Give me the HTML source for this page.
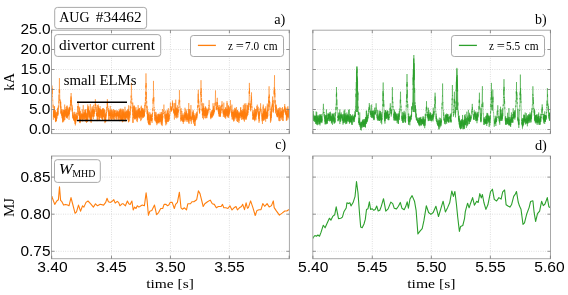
<!DOCTYPE html><html><head><meta charset="utf-8"><style>html,body{margin:0;padding:0;background:#fff;overflow:hidden}svg{display:block;will-change:transform}</style></head><body>
<svg width="568" height="295" viewBox="0 0 568 295">
<rect width="568" height="295" fill="#fff"/>
<clipPath id="cTL"><rect x="51.5" y="30.2" width="237.90" height="103.40"/></clipPath>
<path d="M111.50,30.20V133.60 M170.45,30.20V133.60 M229.40,30.20V133.60 M51.50,129.50H289.40 M51.50,109.50H289.40 M51.50,89.50H289.40 M51.50,69.50H289.40 M51.50,49.50H289.40" stroke="#bdbdbd" stroke-width="0.6" stroke-dasharray="0.8 1.5" fill="none"/>
<clipPath id="cTR"><rect x="312.8" y="30.2" width="237.70" height="103.40"/></clipPath>
<path d="M372.30,30.20V133.60 M431.35,30.20V133.60 M490.40,30.20V133.60 M312.80,129.50H550.50 M312.80,109.50H550.50 M312.80,89.50H550.50 M312.80,69.50H550.50 M312.80,49.50H550.50" stroke="#bdbdbd" stroke-width="0.6" stroke-dasharray="0.8 1.5" fill="none"/>
<clipPath id="cBL"><rect x="51.5" y="156.0" width="237.90" height="102.70"/></clipPath>
<path d="M111.50,156.00V258.70 M170.45,156.00V258.70 M229.40,156.00V258.70 M51.50,251.30H289.40 M51.50,214.20H289.40 M51.50,177.10H289.40" stroke="#bdbdbd" stroke-width="0.6" stroke-dasharray="0.8 1.5" fill="none"/>
<clipPath id="cBR"><rect x="312.8" y="156.0" width="237.70" height="102.70"/></clipPath>
<path d="M372.30,156.00V258.70 M431.35,156.00V258.70 M490.40,156.00V258.70 M312.80,251.30H550.50 M312.80,214.20H550.50 M312.80,177.10H550.50" stroke="#bdbdbd" stroke-width="0.6" stroke-dasharray="0.8 1.5" fill="none"/>
<g clip-path="url(#cTL)"><polyline points="51.80,89.70 51.86,94.08 51.93,93.87 51.99,93.82 52.05,85.57 52.11,94.38 52.18,93.82 52.24,88.12 52.30,93.00 52.36,93.90 52.43,96.63 52.49,95.84 52.55,97.21 52.61,99.28 52.68,100.40 52.74,99.81 52.80,100.61 52.86,103.61 52.93,104.24 52.99,105.41 53.05,106.99 53.11,107.69 53.18,104.73 53.24,106.66 53.30,113.04 53.36,119.77 53.43,114.19 53.49,113.58 53.55,117.11 53.61,110.74 53.68,114.34 53.74,112.07 53.80,113.61 53.86,110.50 53.93,116.27 53.99,116.34 54.05,115.90 54.11,109.12 54.18,117.01 54.24,115.68 54.30,106.41 54.36,113.09 54.43,117.33 54.49,110.70 54.55,106.23 54.61,111.62 54.68,114.14 54.74,113.64 54.80,118.16 54.86,111.74 54.93,118.04 54.99,115.74 55.05,112.76 55.11,117.02 55.18,115.69 55.24,116.06 55.30,115.66 55.36,114.41 55.43,120.66 55.49,117.81 55.55,110.15 55.61,122.12 55.68,118.23 55.74,113.98 55.80,121.84 55.86,118.95 55.93,118.79 55.99,111.77 56.05,119.03 56.11,114.61 56.18,118.40 56.24,116.55 56.30,120.01 56.36,121.08 56.43,118.17 56.49,120.93 56.55,117.44 56.61,116.63 56.68,115.83 56.74,112.56 56.80,112.93 56.86,114.30 56.93,112.53 56.99,112.26 57.05,117.48 57.12,118.51 57.18,114.22 57.24,113.93 57.30,114.71 57.37,115.82 57.43,110.84 57.49,110.05 57.55,108.31 57.62,114.57 57.68,112.98 57.74,114.88 57.80,111.85 57.87,115.83 57.93,111.40 57.99,114.20 58.05,107.51 58.12,111.92 58.18,111.68 58.24,110.80 58.30,107.71 58.37,105.45 58.43,108.66 58.49,108.48 58.55,108.22 58.62,105.53 58.68,105.39 58.74,101.10 58.80,102.52 58.87,103.19 58.93,103.32 58.99,94.62 59.05,100.98 59.12,91.04 59.18,89.46 59.24,90.79 59.30,92.77 59.37,88.58 59.43,78.10 59.49,93.21 59.55,92.84 59.62,89.52 59.68,90.07 59.74,95.41 59.80,95.33 59.87,100.84 59.93,99.22 59.99,100.62 60.05,100.79 60.12,102.70 60.18,105.07 60.24,106.20 60.30,107.35 60.37,105.56 60.43,102.12 60.49,103.15 60.55,100.60 60.62,106.77 60.68,108.46 60.74,101.90 60.80,113.32 60.87,109.50 60.93,106.42 60.99,106.89 61.05,108.74 61.12,114.25 61.18,110.46 61.24,112.18 61.30,113.45 61.37,111.22 61.43,111.52 61.49,113.34 61.55,114.76 61.62,115.77 61.68,109.02 61.74,112.32 61.80,114.79 61.87,112.22 61.93,111.04 61.99,115.25 62.05,117.84 62.12,114.11 62.18,115.71 62.24,114.54 62.30,118.75 62.37,109.42 62.43,116.29 62.49,114.16 62.56,117.54 62.62,115.32 62.68,122.29 62.74,113.68 62.81,122.26 62.87,112.77 62.93,119.79 62.99,112.93 63.06,112.22 63.12,116.99 63.18,115.98 63.24,112.25 63.31,113.94 63.37,114.44 63.43,113.40 63.49,121.11 63.56,111.47 63.62,111.35 63.68,109.80 63.74,121.52 63.81,117.81 63.87,116.94 63.93,110.18 63.99,113.54 64.06,109.92 64.12,113.81 64.18,117.02 64.24,110.72 64.31,116.72 64.37,110.82 64.43,117.47 64.49,120.19 64.56,114.02 64.62,110.73 64.68,104.55 64.74,110.98 64.81,111.75 64.87,119.87 64.93,110.57 64.99,115.53 65.06,113.91 65.12,116.99 65.18,111.78 65.24,110.32 65.31,113.63 65.37,114.74 65.43,113.23 65.49,112.58 65.56,111.28 65.62,116.15 65.68,109.23 65.74,109.19 65.81,113.99 65.87,111.39 65.93,115.51 65.99,110.81 66.06,107.03 66.12,112.12 66.18,112.81 66.24,114.86 66.31,109.01 66.37,110.11 66.43,118.02 66.49,110.65 66.56,115.58 66.62,117.14 66.68,113.90 66.74,115.70 66.81,106.05 66.87,117.58 66.93,117.71 66.99,116.74 67.06,114.37 67.12,105.48 67.18,117.26 67.24,116.19 67.31,118.72 67.37,114.65 67.43,117.10 67.49,107.59 67.56,108.31 67.62,116.79 67.68,113.60 67.75,112.75 67.81,115.60 67.87,115.13 67.93,112.05 68.00,114.74 68.06,114.82 68.12,114.02 68.18,110.26 68.25,114.71 68.31,112.80 68.37,113.26 68.43,111.87 68.50,114.60 68.56,109.50 68.62,116.13 68.68,113.42 68.75,113.75 68.81,109.77 68.87,113.59 68.93,107.74 69.00,112.01 69.06,119.86 69.12,110.61 69.18,114.11 69.25,112.34 69.31,106.84 69.37,114.40 69.43,108.23 69.50,108.36 69.56,107.96 69.62,109.87 69.68,110.03 69.75,111.79 69.81,106.86 69.87,110.52 69.93,110.56 70.00,108.69 70.06,107.53 70.12,109.64 70.18,108.89 70.25,105.21 70.31,105.24 70.37,104.25 70.43,106.47 70.50,104.30 70.56,100.09 70.62,105.10 70.68,101.41 70.75,100.58 70.81,102.40 70.87,98.34 70.93,96.97 71.00,96.32 71.06,100.98 71.12,93.00 71.18,102.79 71.25,97.62 71.31,100.91 71.37,100.17 71.43,101.74 71.50,104.98 71.56,101.14 71.62,104.72 71.68,106.24 71.75,106.51 71.81,105.46 71.87,105.93 71.93,104.77 72.00,107.87 72.06,109.95 72.12,106.22 72.18,111.34 72.25,109.99 72.31,111.75 72.37,107.68 72.43,113.62 72.50,114.42 72.56,112.10 72.62,115.77 72.68,114.36 72.75,116.18 72.81,117.59 72.87,113.63 72.94,117.63 73.00,114.93 73.06,118.79 73.12,117.46 73.19,117.44 73.25,117.10 73.31,118.31 73.37,115.73 73.44,118.10 73.50,116.63 73.56,115.83 73.62,119.14 73.69,116.17 73.75,120.58 73.81,117.37 73.87,119.67 73.94,112.34 74.00,119.67 74.06,119.79 74.12,117.77 74.19,120.61 74.25,111.75 74.31,111.89 74.37,116.60 74.44,121.01 74.50,119.10 74.56,119.81 74.62,117.25 74.69,116.90 74.75,118.16 74.81,118.58 74.87,114.06 74.94,121.98 75.00,114.54 75.06,117.81 75.12,123.96 75.19,119.03 75.25,123.61 75.31,119.76 75.37,125.41 75.44,117.20 75.50,121.69 75.56,114.41 75.62,121.42 75.69,119.06 75.75,123.20 75.81,119.49 75.87,118.92 75.94,117.49 76.00,112.41 76.06,113.98 76.12,116.49 76.19,119.72 76.25,119.52 76.31,119.52 76.37,121.06 76.44,116.45 76.50,118.52 76.56,116.71 76.62,118.93 76.69,117.01 76.75,112.82 76.81,116.93 76.87,115.17 76.94,120.40 77.00,118.29 77.06,118.76 77.12,115.94 77.19,116.35 77.25,119.05 77.31,115.83 77.37,116.33 77.44,118.04 77.50,116.50 77.56,112.75 77.62,114.36 77.69,106.02 77.75,112.35 77.81,112.15 77.87,111.03 77.94,109.71 78.00,108.34 78.06,106.14 78.12,108.18 78.19,101.50 78.25,105.23 78.31,107.33 78.38,107.41 78.44,107.43 78.50,109.76 78.56,111.67 78.63,111.96 78.69,112.59 78.75,113.98 78.81,111.29 78.88,112.92 78.94,115.36 79.00,112.25 79.06,115.82 79.13,113.73 79.19,115.58 79.25,107.98 79.31,118.93 79.38,118.34 79.44,116.12 79.50,115.08 79.56,122.77 79.63,117.75 79.69,106.75 79.75,117.20 79.81,120.10 79.88,119.92 79.94,111.99 80.00,121.80 80.06,118.12 80.13,114.73 80.19,123.15 80.25,115.24 80.31,121.87 80.38,114.24 80.44,110.87 80.50,120.87 80.56,117.29 80.63,115.92 80.69,118.62 80.75,115.21 80.81,118.86 80.88,118.35 80.94,119.02 81.00,116.70 81.06,115.09 81.13,113.56 81.19,116.74 81.25,119.57 81.31,117.81 81.38,113.47 81.44,117.52 81.50,114.63 81.56,116.77 81.63,116.08 81.69,116.20 81.75,116.62 81.81,117.75 81.88,114.18 81.94,116.61 82.00,116.66 82.06,119.64 82.13,118.37 82.19,118.02 82.25,109.39 82.31,121.34 82.38,113.88 82.44,115.60 82.50,117.98 82.56,118.28 82.63,114.12 82.69,114.87 82.75,121.26 82.81,117.29 82.88,117.83 82.94,115.21 83.00,116.77 83.06,113.43 83.13,116.26 83.19,115.47 83.25,105.16 83.31,115.30 83.38,116.07 83.44,114.51 83.50,118.52 83.57,119.46 83.63,114.87 83.69,116.60 83.75,119.16 83.82,112.23 83.88,113.00 83.94,114.41 84.00,116.70 84.07,115.74 84.13,116.90 84.19,112.68 84.25,119.53 84.32,114.49 84.38,115.28 84.44,118.72 84.50,113.56 84.57,116.44 84.63,109.92 84.69,112.03 84.75,115.72 84.82,112.56 84.88,117.67 84.94,117.83 85.00,114.80 85.07,120.03 85.13,112.92 85.19,113.77 85.25,116.27 85.32,113.68 85.38,109.40 85.44,115.08 85.50,110.88 85.57,116.89 85.63,117.85 85.69,109.34 85.75,121.81 85.82,113.30 85.88,116.19 85.94,117.64 86.00,115.99 86.07,115.95 86.13,112.60 86.19,113.82 86.25,115.74 86.32,117.01 86.38,119.17 86.44,115.77 86.50,122.89 86.57,113.48 86.63,116.34 86.69,121.26 86.75,114.63 86.82,118.93 86.88,117.65 86.94,121.55 87.00,118.45 87.07,115.72 87.13,116.40 87.19,115.23 87.25,115.57 87.32,109.31 87.38,120.22 87.44,113.35 87.50,122.06 87.57,116.28 87.63,116.80 87.69,115.54 87.75,104.46 87.82,110.62 87.88,117.78 87.94,106.56 88.00,119.64 88.07,108.18 88.13,109.55 88.19,111.85 88.25,109.47 88.32,110.39 88.38,114.72 88.44,110.63 88.50,109.23 88.57,110.31 88.63,112.97 88.69,113.90 88.76,106.28 88.82,112.10 88.88,111.39 88.94,117.30 89.01,111.25 89.07,112.71 89.13,116.17 89.19,109.96 89.26,113.98 89.32,112.24 89.38,113.00 89.44,116.64 89.51,113.91 89.57,110.86 89.63,118.45 89.69,118.43 89.76,118.25 89.82,113.52 89.88,117.26 89.94,115.16 90.01,112.78 90.07,119.63 90.13,112.01 90.19,116.38 90.26,117.06 90.32,103.97 90.38,115.27 90.44,120.56 90.51,116.85 90.57,118.98 90.63,115.92 90.69,118.11 90.76,117.72 90.82,113.86 90.88,121.72 90.94,115.82 91.01,117.30 91.07,115.59 91.13,123.00 91.19,119.21 91.26,117.47 91.32,111.22 91.38,119.71 91.44,119.16 91.51,116.21 91.57,114.52 91.63,117.09 91.69,114.82 91.76,119.73 91.82,109.65 91.88,115.48 91.94,113.89 92.01,107.53 92.07,115.54 92.13,117.37 92.19,116.44 92.26,106.23 92.32,113.75 92.38,110.84 92.44,113.05 92.51,112.99 92.57,109.78 92.63,110.58 92.69,111.55 92.76,111.21 92.82,115.03 92.88,116.39 92.94,111.47 93.01,111.15 93.07,109.05 93.13,111.99 93.19,111.05 93.26,116.43 93.32,114.17 93.38,115.87 93.44,118.96 93.51,112.00 93.57,114.40 93.63,104.81 93.69,112.11 93.76,116.79 93.82,109.75 93.88,113.44 93.94,111.46 94.01,109.54 94.07,116.07 94.13,116.41 94.20,114.26 94.26,111.54 94.32,111.46 94.38,113.78 94.45,110.54 94.51,112.32 94.57,111.92 94.63,111.42 94.70,111.87 94.76,109.27 94.82,110.34 94.88,108.52 94.95,106.98 95.01,108.39 95.07,108.52 95.13,105.98 95.20,103.56 95.26,106.40 95.32,103.54 95.38,99.20 95.45,102.14 95.51,102.36 95.57,105.79 95.63,104.96 95.70,105.76 95.76,104.23 95.82,108.30 95.88,107.69 95.95,108.84 96.01,111.35 96.07,111.32 96.13,112.02 96.20,111.32 96.26,106.66 96.32,113.83 96.38,113.28 96.45,114.49 96.51,114.61 96.57,113.65 96.63,113.14 96.70,116.10 96.76,116.00 96.82,114.07 96.88,116.17 96.95,109.27 97.01,113.05 97.07,117.34 97.13,121.13 97.20,115.07 97.26,112.58 97.32,115.70 97.38,105.07 97.45,117.10 97.51,115.54 97.57,115.69 97.63,117.28 97.70,119.37 97.76,117.73 97.82,120.48 97.88,112.51 97.95,115.22 98.01,114.96 98.07,116.31 98.13,111.73 98.20,117.03 98.26,104.50 98.32,111.24 98.38,116.52 98.45,115.03 98.51,112.56 98.57,106.30 98.63,109.83 98.70,115.90 98.76,107.89 98.82,111.70 98.88,108.29 98.95,108.71 99.01,113.12 99.07,115.79 99.13,119.54 99.20,111.80 99.26,117.67 99.32,109.99 99.39,120.02 99.45,115.48 99.51,114.04 99.57,117.60 99.64,108.24 99.70,116.16 99.76,113.22 99.82,117.26 99.89,114.23 99.95,109.30 100.01,109.17 100.07,107.67 100.14,106.13 100.20,114.46 100.26,112.28 100.32,111.16 100.39,112.47 100.45,109.04 100.51,115.35 100.57,114.07 100.64,118.03 100.70,114.83 100.76,109.96 100.82,113.55 100.89,111.55 100.95,109.25 101.01,111.03 101.07,116.44 101.14,112.43 101.20,112.06 101.26,110.70 101.32,110.04 101.39,115.70 101.45,118.51 101.51,116.19 101.57,110.37 101.64,117.25 101.70,118.37 101.76,118.16 101.82,118.10 101.89,112.07 101.95,116.46 102.01,109.13 102.07,110.74 102.14,111.34 102.20,111.50 102.26,116.40 102.32,119.20 102.39,113.12 102.45,108.98 102.51,108.31 102.57,115.09 102.64,120.88 102.70,109.27 102.76,115.08 102.82,119.73 102.89,114.81 102.95,116.47 103.01,112.90 103.07,108.42 103.14,117.26 103.20,114.45 103.26,116.10 103.32,116.97 103.39,113.67 103.45,110.48 103.51,113.80 103.57,108.24 103.64,113.64 103.70,114.51 103.76,112.82 103.82,116.92 103.89,114.90 103.95,110.46 104.01,115.33 104.07,112.52 104.14,115.49 104.20,115.30 104.26,117.77 104.32,109.09 104.39,112.15 104.45,112.28 104.51,112.45 104.58,110.08 104.64,118.36 104.70,116.77 104.76,121.35 104.83,119.18 104.89,114.18 104.95,123.13 105.01,119.61 105.08,117.38 105.14,117.48 105.20,117.41 105.26,119.68 105.33,114.79 105.39,121.30 105.45,116.36 105.51,122.12 105.58,119.78 105.64,117.82 105.70,112.78 105.76,120.22 105.83,121.74 105.89,114.47 105.95,117.53 106.01,117.16 106.08,115.45 106.14,110.11 106.20,115.70 106.26,115.32 106.33,115.06 106.39,114.48 106.45,113.23 106.51,112.09 106.58,112.94 106.64,112.25 106.70,111.99 106.76,106.95 106.83,109.60 106.89,110.24 106.95,107.96 107.01,107.12 107.08,106.46 107.14,107.50 107.20,107.68 107.26,102.49 107.33,105.78 107.39,99.20 107.45,104.56 107.51,103.04 107.58,106.00 107.64,107.07 107.70,107.35 107.76,105.76 107.83,109.10 107.89,109.49 107.95,109.76 108.01,110.56 108.08,110.92 108.14,110.74 108.20,111.93 108.26,110.09 108.33,107.96 108.39,113.34 108.45,114.30 108.51,109.86 108.58,112.50 108.64,114.64 108.70,120.39 108.76,114.69 108.83,115.32 108.89,115.41 108.95,115.78 109.01,111.71 109.08,115.87 109.14,113.38 109.20,120.38 109.26,117.69 109.33,114.79 109.39,111.80 109.45,114.67 109.51,114.93 109.58,114.22 109.64,115.75 109.70,112.87 109.76,115.49 109.83,115.96 109.89,110.22 109.95,116.00 110.02,110.18 110.08,113.70 110.14,115.44 110.20,114.46 110.27,105.93 110.33,115.68 110.39,118.07 110.45,113.30 110.52,112.68 110.58,112.31 110.64,119.43 110.70,113.75 110.77,114.79 110.83,115.79 110.89,116.52 110.95,113.78 111.02,115.42 111.08,115.41 111.14,109.36 111.20,115.18 111.27,118.81 111.33,118.11 111.39,117.63 111.45,120.14 111.52,112.08 111.58,109.74 111.64,117.11 111.70,112.48 111.77,113.40 111.83,117.12 111.89,120.24 111.95,115.17 112.02,111.29 112.08,111.17 112.14,113.34 112.20,115.70 112.27,111.32 112.33,109.74 112.39,117.23 112.45,114.20 112.52,115.20 112.58,117.03 112.64,118.68 112.70,117.73 112.77,114.98 112.83,114.62 112.89,115.02 112.95,111.69 113.02,117.60 113.08,119.34 113.14,119.15 113.20,114.50 113.27,117.30 113.33,118.29 113.39,112.94 113.45,111.50 113.52,110.27 113.58,109.06 113.64,116.85 113.70,119.61 113.77,114.83 113.83,114.58 113.89,115.65 113.95,115.80 114.02,116.66 114.08,110.35 114.14,117.02 114.20,114.71 114.27,111.08 114.33,117.06 114.39,113.47 114.45,114.12 114.52,111.84 114.58,120.11 114.64,114.38 114.70,115.76 114.77,110.15 114.83,113.54 114.89,115.04 114.95,110.76 115.02,111.53 115.08,110.47 115.14,110.36 115.21,111.39 115.27,115.50 115.33,113.05 115.39,113.19 115.46,113.14 115.52,113.36 115.58,114.22 115.64,115.87 115.71,114.96 115.77,117.77 115.83,117.62 115.89,112.89 115.96,116.05 116.02,114.88 116.08,116.77 116.14,120.02 116.21,116.34 116.27,110.30 116.33,115.34 116.39,116.96 116.46,112.77 116.52,116.13 116.58,116.36 116.64,119.03 116.71,119.31 116.77,112.81 116.83,113.48 116.89,113.62 116.96,111.53 117.02,114.83 117.08,113.31 117.14,115.88 117.21,115.81 117.27,115.45 117.33,110.36 117.39,111.17 117.46,116.31 117.52,114.35 117.58,113.15 117.64,116.02 117.71,111.76 117.77,116.24 117.83,115.06 117.89,115.22 117.96,119.88 118.02,119.76 118.08,117.28 118.14,111.34 118.21,113.26 118.27,113.75 118.33,117.05 118.39,116.66 118.46,115.20 118.52,114.59 118.58,119.95 118.64,117.58 118.71,117.78 118.77,111.61 118.83,117.13 118.89,117.92 118.96,113.04 119.02,116.72 119.08,112.59 119.14,118.16 119.21,109.63 119.27,115.40 119.33,114.66 119.39,115.71 119.46,115.07 119.52,114.81 119.58,115.79 119.64,111.07 119.71,121.22 119.77,118.29 119.83,115.78 119.89,115.07 119.96,110.41 120.02,113.07 120.08,114.76 120.14,117.19 120.21,109.02 120.27,112.34 120.33,108.44 120.40,119.50 120.46,110.03 120.52,115.53 120.58,117.86 120.65,115.05 120.71,115.17 120.77,116.56 120.83,120.03 120.90,116.86 120.96,117.42 121.02,115.73 121.08,120.13 121.15,115.51 121.21,117.44 121.27,113.43 121.33,118.65 121.40,120.37 121.46,120.54 121.52,115.58 121.58,109.81 121.65,120.46 121.71,118.20 121.77,111.73 121.83,114.32 121.90,112.45 121.96,108.69 122.02,114.68 122.08,115.92 122.15,119.33 122.21,115.34 122.27,118.82 122.33,114.02 122.40,122.29 122.46,122.01 122.52,116.26 122.58,115.53 122.65,110.30 122.71,118.21 122.77,113.88 122.83,121.09 122.90,108.92 122.96,121.93 123.02,111.10 123.08,116.63 123.15,120.87 123.21,117.08 123.27,112.69 123.33,115.66 123.40,117.65 123.46,112.42 123.52,115.01 123.58,112.19 123.65,109.53 123.71,116.19 123.77,117.03 123.83,114.55 123.90,115.11 123.96,113.83 124.02,117.65 124.08,114.23 124.15,117.05 124.21,112.96 124.27,113.87 124.33,115.46 124.40,119.48 124.46,111.50 124.52,117.44 124.58,116.40 124.65,115.30 124.71,113.90 124.77,116.81 124.83,116.82 124.90,119.57 124.96,106.80 125.02,116.90 125.08,116.87 125.15,121.62 125.21,117.30 125.27,112.95 125.33,112.42 125.40,118.64 125.46,115.35 125.52,113.62 125.58,119.69 125.65,116.52 125.71,113.22 125.77,111.98 125.84,119.47 125.90,118.37 125.96,111.54 126.02,116.12 126.09,113.77 126.15,118.22 126.21,111.22 126.27,113.46 126.34,110.33 126.40,117.27 126.46,116.01 126.52,117.94 126.59,117.93 126.65,118.18 126.71,113.70 126.77,116.95 126.84,114.30 126.90,116.30 126.96,113.20 127.02,111.82 127.09,111.93 127.15,111.78 127.21,114.83 127.27,112.37 127.34,115.33 127.40,117.08 127.46,118.47 127.52,115.04 127.59,114.23 127.65,110.29 127.71,116.72 127.77,111.05 127.84,120.21 127.90,115.97 127.96,108.85 128.02,116.93 128.09,118.71 128.15,119.15 128.21,109.53 128.27,112.50 128.34,117.90 128.40,117.62 128.46,122.36 128.52,116.77 128.59,111.56 128.65,121.87 128.71,105.29 128.77,114.06 128.84,111.10 128.90,112.00 128.96,114.75 129.02,111.38 129.09,113.84 129.15,113.08 129.21,116.06 129.27,115.60 129.34,116.76 129.40,114.66 129.46,114.91 129.52,115.80 129.59,121.34 129.65,119.36 129.71,115.42 129.77,111.82 129.84,118.05 129.90,117.10 129.96,115.76 130.02,112.87 130.09,110.91 130.15,115.17 130.21,113.89 130.27,113.14 130.34,105.92 130.40,110.99 130.46,109.89 130.52,109.42 130.59,106.79 130.65,108.23 130.71,104.50 130.77,103.85 130.84,101.69 130.90,100.60 130.96,103.14 131.03,97.94 131.09,95.57 131.15,97.72 131.21,97.49 131.28,92.62 131.34,89.73 131.40,82.90 131.46,86.85 131.53,90.74 131.59,92.81 131.65,93.94 131.71,100.05 131.78,98.37 131.84,100.54 131.90,104.04 131.96,102.75 132.03,103.61 132.09,104.39 132.15,108.40 132.21,107.33 132.28,108.17 132.34,109.88 132.40,111.94 132.46,111.77 132.53,109.76 132.59,113.95 132.65,115.20 132.71,112.85 132.78,102.53 132.84,116.06 132.90,122.83 132.96,116.82 133.03,122.77 133.09,118.13 133.15,114.19 133.21,114.41 133.28,116.43 133.34,116.08 133.40,114.97 133.46,117.97 133.53,117.87 133.59,113.13 133.65,111.21 133.71,106.04 133.78,115.30 133.84,107.02 133.90,113.85 133.96,114.07 134.03,110.98 134.09,105.23 134.15,110.61 134.21,116.81 134.28,118.32 134.34,114.69 134.40,117.32 134.46,119.00 134.53,113.08 134.59,106.14 134.65,119.53 134.71,111.82 134.78,113.98 134.84,117.59 134.90,116.53 134.96,115.00 135.03,107.81 135.09,113.66 135.15,109.65 135.21,116.13 135.28,111.21 135.34,111.98 135.40,116.43 135.46,116.19 135.53,113.09 135.59,119.31 135.65,114.79 135.71,118.66 135.78,114.90 135.84,113.76 135.90,113.08 135.96,107.09 136.03,115.91 136.09,117.06 136.15,118.11 136.22,117.49 136.28,113.86 136.34,117.43 136.40,110.30 136.47,118.08 136.53,111.48 136.59,114.19 136.65,118.46 136.72,121.18 136.78,118.97 136.84,117.24 136.90,116.85 136.97,115.53 137.03,110.41 137.09,116.40 137.15,111.19 137.22,115.37 137.28,116.71 137.34,122.14 137.40,116.40 137.47,113.48 137.53,118.41 137.59,119.67 137.65,118.86 137.72,114.31 137.78,114.54 137.84,109.74 137.90,115.76 137.97,109.54 138.03,117.66 138.09,114.57 138.15,105.08 138.22,114.55 138.28,112.07 138.34,117.35 138.40,116.32 138.47,115.11 138.53,116.85 138.59,114.86 138.65,109.14 138.72,114.21 138.78,112.80 138.84,108.94 138.90,113.58 138.97,114.15 139.03,115.23 139.09,110.53 139.15,111.23 139.22,107.92 139.28,107.96 139.34,118.64 139.40,108.70 139.47,108.05 139.53,113.45 139.59,111.34 139.65,117.94 139.72,111.19 139.78,117.67 139.84,114.21 139.90,115.80 139.97,113.49 140.03,116.21 140.09,116.23 140.15,111.93 140.22,115.13 140.28,112.30 140.34,116.98 140.40,110.54 140.47,113.34 140.53,111.18 140.59,112.43 140.65,119.33 140.72,121.13 140.78,111.30 140.84,115.78 140.90,115.45 140.97,116.62 141.03,115.67 141.09,106.84 141.15,111.14 141.22,114.53 141.28,120.06 141.34,105.60 141.40,112.46 141.47,115.08 141.53,117.02 141.59,117.08 141.66,109.32 141.72,114.85 141.78,109.42 141.84,113.75 141.91,110.43 141.97,115.85 142.03,108.43 142.09,113.84 142.16,118.50 142.22,117.42 142.28,112.14 142.34,109.00 142.41,113.25 142.47,114.24 142.53,117.13 142.59,113.68 142.66,114.75 142.72,107.90 142.78,108.90 142.84,115.48 142.91,108.39 142.97,117.50 143.03,117.54 143.09,110.49 143.16,117.92 143.22,116.49 143.28,110.05 143.34,116.05 143.41,110.74 143.47,112.68 143.53,114.21 143.59,112.85 143.66,111.38 143.72,112.26 143.78,117.23 143.84,111.87 143.91,116.62 143.97,109.08 144.03,114.53 144.09,111.84 144.16,110.53 144.22,111.94 144.28,116.23 144.34,112.12 144.41,116.16 144.47,113.69 144.53,112.97 144.59,112.88 144.66,110.18 144.72,105.48 144.78,105.02 144.84,107.16 144.91,108.16 144.97,112.12 145.03,109.66 145.09,108.86 145.16,103.68 145.22,106.15 145.28,102.14 145.34,104.06 145.41,98.41 145.47,96.98 145.53,101.06 145.59,98.43 145.66,91.58 145.72,94.80 145.78,93.18 145.84,85.54 145.91,88.48 145.97,73.40 146.03,86.75 146.09,86.81 146.16,83.02 146.22,87.78 146.28,98.53 146.34,95.67 146.41,92.03 146.47,99.11 146.53,98.42 146.59,103.47 146.66,100.92 146.72,108.16 146.78,105.57 146.85,107.84 146.91,108.84 146.97,111.94 147.03,114.17 147.10,112.61 147.16,106.22 147.22,110.72 147.28,112.45 147.35,112.29 147.41,120.39 147.47,110.29 147.53,111.78 147.60,112.19 147.66,118.08 147.72,113.02 147.78,110.78 147.85,118.35 147.91,119.70 147.97,116.89 148.03,122.74 148.10,115.51 148.16,113.79 148.22,119.19 148.28,120.27 148.35,115.55 148.41,119.70 148.47,113.63 148.53,123.48 148.60,121.14 148.66,124.47 148.72,124.52 148.78,121.08 148.85,124.08 148.91,118.74 148.97,118.08 149.03,119.19 149.10,111.93 149.16,119.25 149.22,125.20 149.28,123.89 149.35,119.51 149.41,123.59 149.47,122.27 149.53,120.22 149.60,119.05 149.66,124.53 149.72,119.62 149.78,117.02 149.85,118.32 149.91,114.85 149.97,120.59 150.03,115.29 150.10,112.55 150.16,116.75 150.22,115.84 150.28,115.73 150.35,125.17 150.41,120.77 150.47,115.44 150.53,120.21 150.60,117.83 150.66,117.13 150.72,115.04 150.78,119.25 150.85,116.33 150.91,119.02 150.97,114.31 151.03,120.95 151.10,120.68 151.16,117.94 151.22,114.17 151.28,118.39 151.35,119.24 151.41,120.98 151.47,115.98 151.53,121.10 151.60,119.74 151.66,119.79 151.72,115.58 151.78,121.37 151.85,121.27 151.91,118.11 151.97,118.52 152.04,122.99 152.10,121.18 152.16,120.42 152.22,118.38 152.29,119.37 152.35,112.66 152.41,116.99 152.47,115.00 152.54,113.39 152.60,113.82 152.66,111.48 152.72,108.15 152.79,110.95 152.85,108.88 152.91,106.21 152.97,106.11 153.04,99.64 153.10,103.77 153.16,98.14 153.22,100.79 153.29,96.71 153.35,94.57 153.41,91.76 153.47,80.90 153.54,90.15 153.60,89.77 153.66,92.26 153.72,101.15 153.79,101.53 153.85,96.99 153.91,101.44 153.97,104.96 154.04,106.71 154.10,107.96 154.16,107.15 154.22,111.01 154.29,109.50 154.35,109.47 154.41,113.06 154.47,113.93 154.54,116.26 154.60,115.74 154.66,111.69 154.72,119.19 154.79,120.31 154.85,117.33 154.91,118.23 154.97,114.88 155.04,118.49 155.10,118.72 155.16,119.03 155.22,121.03 155.29,117.82 155.35,120.14 155.41,121.63 155.47,118.83 155.54,118.20 155.60,117.37 155.66,113.96 155.72,111.89 155.79,119.18 155.85,114.38 155.91,118.38 155.97,118.05 156.04,112.54 156.10,116.73 156.16,118.90 156.22,116.72 156.29,123.17 156.35,121.77 156.41,120.42 156.47,119.27 156.54,116.98 156.60,123.15 156.66,115.24 156.72,117.30 156.79,117.57 156.85,125.18 156.91,118.30 156.97,121.51 157.04,116.91 157.10,119.26 157.16,120.14 157.22,121.46 157.29,119.29 157.35,116.47 157.41,123.20 157.48,120.45 157.54,118.85 157.60,118.57 157.66,119.27 157.73,117.20 157.79,117.47 157.85,123.86 157.91,114.54 157.98,121.77 158.04,114.06 158.10,115.24 158.16,122.80 158.23,117.29 158.29,113.62 158.35,113.62 158.41,117.30 158.48,120.26 158.54,114.49 158.60,122.68 158.66,122.79 158.73,116.17 158.79,122.21 158.85,117.08 158.91,122.02 158.98,120.82 159.04,115.58 159.10,119.34 159.16,117.28 159.23,119.80 159.29,120.64 159.35,121.36 159.41,122.06 159.48,118.13 159.54,117.97 159.60,114.34 159.66,118.41 159.73,120.01 159.79,117.71 159.85,114.87 159.91,123.40 159.98,114.12 160.04,121.44 160.10,121.35 160.16,112.35 160.23,115.57 160.29,120.34 160.35,116.08 160.41,114.49 160.48,116.39 160.54,115.07 160.60,117.17 160.66,116.61 160.73,121.47 160.79,121.08 160.85,117.41 160.91,121.93 160.98,115.91 161.04,118.13 161.10,114.35 161.16,115.21 161.23,114.29 161.29,124.43 161.35,122.23 161.41,117.98 161.48,111.97 161.54,118.08 161.60,116.50 161.66,118.41 161.73,125.00 161.79,116.80 161.85,119.48 161.91,123.34 161.98,116.97 162.04,119.35 162.10,112.84 162.16,126.08 162.23,118.87 162.29,114.26 162.35,121.23 162.41,109.05 162.48,117.79 162.54,119.16 162.60,119.98 162.67,119.43 162.73,116.11 162.79,118.34 162.85,117.73 162.92,117.35 162.98,116.09 163.04,116.41 163.10,115.63 163.17,115.39 163.23,114.99 163.29,114.17 163.35,113.00 163.42,113.39 163.48,113.97 163.54,113.17 163.60,112.18 163.67,110.30 163.73,111.59 163.79,107.46 163.85,106.38 163.92,104.60 163.98,109.24 164.04,110.07 164.10,111.15 164.17,112.39 164.23,112.04 164.29,113.66 164.35,111.88 164.42,113.58 164.48,113.73 164.54,113.87 164.60,115.71 164.67,114.69 164.73,116.62 164.79,116.32 164.85,117.66 164.92,117.93 164.98,118.30 165.04,118.63 165.10,114.05 165.17,119.70 165.23,119.83 165.29,121.77 165.35,116.66 165.42,118.79 165.48,119.12 165.54,114.65 165.60,119.40 165.67,110.61 165.73,124.10 165.79,125.35 165.85,121.61 165.92,119.70 165.98,123.15 166.04,122.62 166.10,117.40 166.17,121.19 166.23,121.09 166.29,120.20 166.35,122.28 166.42,116.31 166.48,114.48 166.54,115.50 166.60,113.89 166.67,124.22 166.73,115.56 166.79,118.56 166.85,113.99 166.92,119.96 166.98,115.59 167.04,112.70 167.10,116.18 167.17,117.64 167.23,118.57 167.29,109.80 167.35,118.82 167.42,121.83 167.48,116.61 167.54,113.63 167.60,110.85 167.67,115.57 167.73,115.24 167.79,118.82 167.86,119.22 167.92,121.49 167.98,118.46 168.04,117.71 168.11,122.06 168.17,120.19 168.23,116.25 168.29,121.40 168.36,108.17 168.42,118.40 168.48,113.09 168.54,116.89 168.61,117.72 168.67,119.72 168.73,119.24 168.79,118.35 168.86,118.02 168.92,118.16 168.98,117.31 169.04,120.86 169.11,114.98 169.17,119.31 169.23,119.05 169.29,115.36 169.36,116.23 169.42,116.61 169.48,116.38 169.54,115.61 169.61,116.28 169.67,113.96 169.73,114.96 169.79,113.89 169.86,112.39 169.92,113.47 169.98,110.71 170.04,112.36 170.11,109.33 170.17,108.60 170.23,108.33 170.29,105.27 170.36,104.23 170.42,102.60 170.48,104.38 170.54,108.16 170.61,106.43 170.67,109.37 170.73,109.29 170.79,108.29 170.86,108.80 170.92,109.72 170.98,110.16 171.04,109.02 171.11,110.35 171.17,109.53 171.23,111.20 171.29,108.53 171.36,109.66 171.42,111.35 171.48,111.63 171.54,107.74 171.61,110.62 171.67,109.32 171.73,109.77 171.79,106.76 171.86,109.45 171.92,108.70 171.98,108.10 172.04,107.28 172.11,105.98 172.17,107.99 172.23,107.39 172.29,105.81 172.36,102.77 172.42,104.56 172.48,100.50 172.54,105.36 172.61,102.84 172.67,106.26 172.73,103.87 172.79,106.47 172.86,105.90 172.92,107.64 172.98,108.00 173.04,108.07 173.11,109.73 173.17,108.47 173.23,110.51 173.30,109.56 173.36,110.54 173.42,110.96 173.48,111.39 173.55,111.59 173.61,112.31 173.67,112.72 173.73,109.49 173.80,113.67 173.86,109.33 173.92,110.33 173.98,111.23 174.05,112.31 174.11,112.27 174.17,102.90 174.23,108.84 174.30,117.01 174.36,118.93 174.42,119.54 174.48,112.92 174.55,110.50 174.61,115.61 174.67,112.14 174.73,112.69 174.80,109.79 174.86,111.00 174.92,111.86 174.98,115.03 175.05,114.13 175.11,110.31 175.17,103.20 175.23,108.96 175.30,114.68 175.36,109.93 175.42,113.27 175.48,111.44 175.55,117.75 175.61,110.59 175.67,115.28 175.73,99.64 175.80,110.00 175.86,114.40 175.92,108.12 175.98,107.98 176.05,107.25 176.11,108.70 176.17,113.37 176.23,107.97 176.30,115.89 176.36,113.11 176.42,111.12 176.48,116.85 176.55,108.52 176.61,110.23 176.67,112.49 176.73,118.46 176.80,109.99 176.86,109.87 176.92,110.39 176.98,115.07 177.05,110.48 177.11,112.52 177.17,116.13 177.23,117.59 177.30,108.62 177.36,112.99 177.42,105.34 177.48,113.95 177.55,110.49 177.61,110.56 177.67,114.00 177.73,114.90 177.80,108.51 177.86,111.12 177.92,113.44 177.98,117.41 178.05,110.07 178.11,110.33 178.17,112.81 178.23,110.18 178.30,112.09 178.36,111.10 178.42,109.82 178.49,110.77 178.55,108.31 178.61,107.16 178.67,107.95 178.74,107.31 178.80,105.91 178.86,105.99 178.92,102.67 178.99,103.17 179.05,104.57 179.11,99.71 179.17,103.00 179.24,100.36 179.30,99.23 179.36,98.74 179.42,90.10 179.49,95.35 179.55,96.18 179.61,101.98 179.67,101.79 179.74,100.40 179.80,103.65 179.86,107.16 179.92,106.52 179.99,108.10 180.05,107.73 180.11,110.53 180.17,109.45 180.24,111.53 180.30,113.43 180.36,112.72 180.42,114.84 180.49,116.60 180.55,117.01 180.61,118.00 180.67,118.83 180.74,117.76 180.80,121.55 180.86,117.95 180.92,110.82 180.99,111.76 181.05,112.04 181.11,108.09 181.17,120.34 181.24,118.74 181.30,119.02 181.36,115.83 181.42,115.13 181.49,116.67 181.55,118.41 181.61,119.61 181.67,118.59 181.74,120.07 181.80,115.60 181.86,110.99 181.92,115.15 181.99,120.97 182.05,117.97 182.11,117.16 182.17,118.38 182.24,120.37 182.30,117.44 182.36,118.20 182.42,117.27 182.49,115.50 182.55,114.79 182.61,118.40 182.67,120.46 182.74,121.64 182.80,120.73 182.86,118.56 182.92,120.86 182.99,122.03 183.05,113.30 183.11,118.80 183.17,115.06 183.24,115.45 183.30,123.87 183.36,120.13 183.42,117.49 183.49,120.39 183.55,119.57 183.61,121.82 183.68,118.53 183.74,119.31 183.80,121.36 183.86,117.19 183.93,115.57 183.99,117.06 184.05,121.70 184.11,117.42 184.18,115.77 184.24,114.64 184.30,114.22 184.36,114.82 184.43,117.95 184.49,115.74 184.55,115.04 184.61,116.59 184.68,112.05 184.74,119.62 184.80,115.60 184.86,117.65 184.93,116.67 184.99,107.72 185.05,115.39 185.11,115.08 185.18,117.79 185.24,120.29 185.30,119.49 185.36,116.96 185.43,112.96 185.49,114.06 185.55,118.16 185.61,116.31 185.68,114.37 185.74,117.70 185.80,116.43 185.86,113.38 185.93,116.15 185.99,109.24 186.05,121.51 186.11,113.86 186.18,118.28 186.24,114.97 186.30,112.16 186.36,115.27 186.43,110.72 186.49,113.50 186.55,119.60 186.61,115.16 186.68,117.06 186.74,113.33 186.80,119.91 186.86,117.13 186.93,116.98 186.99,118.05 187.05,116.96 187.11,121.92 187.18,115.06 187.24,118.48 187.30,116.97 187.36,119.48 187.43,118.61 187.49,113.50 187.55,113.84 187.61,119.88 187.68,119.62 187.74,117.92 187.80,117.03 187.86,120.35 187.93,116.76 187.99,116.53 188.05,115.19 188.11,116.11 188.18,119.99 188.24,120.54 188.30,109.15 188.36,121.81 188.43,117.17 188.49,115.67 188.55,114.26 188.61,113.71 188.68,114.56 188.74,103.03 188.80,122.95 188.86,118.48 188.93,116.56 188.99,123.96 189.05,119.64 189.12,113.89 189.18,119.18 189.24,114.22 189.30,115.19 189.37,113.50 189.43,109.02 189.49,115.24 189.55,114.77 189.62,119.29 189.68,111.79 189.74,117.37 189.80,119.07 189.87,109.19 189.93,120.84 189.99,110.73 190.05,110.35 190.12,113.43 190.18,114.53 190.24,115.69 190.30,116.27 190.37,118.71 190.43,118.10 190.49,116.01 190.55,118.88 190.62,117.60 190.68,117.46 190.74,121.38 190.80,118.71 190.87,119.01 190.93,105.10 190.99,117.43 191.05,116.63 191.12,117.15 191.18,117.85 191.24,117.56 191.30,118.10 191.37,123.90 191.43,117.55 191.49,119.42 191.55,118.39 191.62,120.26 191.68,120.06 191.74,117.29 191.80,118.61 191.87,117.05 191.93,116.48 191.99,117.16 192.05,116.78 192.12,118.83 192.18,117.72 192.24,115.22 192.30,117.60 192.37,111.83 192.43,116.96 192.49,114.21 192.55,120.09 192.62,116.47 192.68,114.86 192.74,115.28 192.80,116.97 192.87,112.86 192.93,117.84 192.99,114.79 193.05,116.51 193.12,109.86 193.18,115.12 193.24,116.50 193.30,111.29 193.37,122.23 193.43,117.18 193.49,117.82 193.55,117.73 193.62,123.63 193.68,117.54 193.74,119.54 193.80,115.87 193.87,116.45 193.93,113.16 193.99,118.40 194.05,119.82 194.12,117.59 194.18,115.58 194.24,121.84 194.31,117.23 194.37,120.00 194.43,119.00 194.49,125.91 194.56,123.53 194.62,124.65 194.68,114.93 194.74,120.35 194.81,116.20 194.87,120.82 194.93,117.01 194.99,121.68 195.06,121.46 195.12,120.50 195.18,119.79 195.24,125.87 195.31,119.92 195.37,117.89 195.43,119.00 195.49,120.29 195.56,120.45 195.62,119.28 195.68,115.74 195.74,115.44 195.81,113.39 195.87,120.27 195.93,118.50 195.99,118.92 196.06,119.22 196.12,116.03 196.18,115.55 196.24,117.97 196.31,117.19 196.37,113.97 196.43,118.03 196.49,114.43 196.56,117.65 196.62,116.35 196.68,112.37 196.74,119.43 196.81,116.86 196.87,114.31 196.93,117.63 196.99,114.20 197.06,111.61 197.12,113.73 197.18,115.56 197.24,115.17 197.31,114.75 197.37,112.25 197.43,111.92 197.49,110.29 197.56,106.29 197.62,108.00 197.68,105.54 197.74,105.47 197.81,106.89 197.87,105.16 197.93,105.79 197.99,104.61 198.06,100.16 198.12,102.94 198.18,93.74 198.24,100.16 198.31,89.70 198.37,95.84 198.43,101.46 198.49,101.84 198.56,101.80 198.62,99.21 198.68,103.68 198.74,100.90 198.81,103.34 198.87,107.33 198.93,104.83 198.99,107.30 199.06,107.60 199.12,109.45 199.18,110.24 199.24,109.34 199.31,111.77 199.37,111.21 199.43,107.81 199.50,113.43 199.56,110.78 199.62,108.57 199.68,113.37 199.75,109.24 199.81,108.97 199.87,110.03 199.93,109.55 200.00,109.30 200.06,108.11 200.12,106.52 200.18,105.78 200.25,105.31 200.31,105.19 200.37,103.83 200.43,101.85 200.50,99.65 200.56,98.80 200.62,94.66 200.68,92.03 200.75,91.81 200.81,95.04 200.87,92.12 200.93,88.39 201.00,80.20 201.06,87.75 201.12,93.06 201.18,88.19 201.25,90.89 201.31,97.01 201.37,94.31 201.43,99.00 201.50,101.96 201.56,98.03 201.62,104.33 201.68,105.04 201.75,105.38 201.81,104.45 201.87,105.44 201.93,108.85 202.00,110.10 202.06,110.18 202.12,111.47 202.18,108.90 202.25,110.93 202.31,102.82 202.37,115.18 202.43,113.67 202.50,118.16 202.56,112.65 202.62,114.84 202.68,109.86 202.75,108.67 202.81,111.40 202.87,109.13 202.93,108.69 203.00,115.58 203.06,108.05 203.12,109.27 203.18,110.14 203.25,113.37 203.31,109.50 203.37,110.80 203.43,106.29 203.50,119.45 203.56,116.42 203.62,103.33 203.68,108.06 203.75,112.09 203.81,113.62 203.87,115.04 203.93,108.33 204.00,109.81 204.06,112.13 204.12,111.89 204.18,108.10 204.25,115.94 204.31,116.32 204.37,113.21 204.43,115.80 204.50,110.10 204.56,110.47 204.62,110.30 204.68,112.98 204.75,113.92 204.81,110.86 204.87,118.09 204.94,116.39 205.00,114.78 205.06,115.80 205.12,111.64 205.19,115.01 205.25,106.82 205.31,111.96 205.37,116.55 205.44,118.35 205.50,106.40 205.56,111.06 205.62,110.82 205.69,113.66 205.75,115.21 205.81,108.54 205.87,116.07 205.94,113.97 206.00,107.53 206.06,115.57 206.12,114.69 206.19,114.77 206.25,114.73 206.31,108.81 206.37,113.28 206.44,110.56 206.50,116.11 206.56,115.18 206.62,115.43 206.69,118.23 206.75,113.56 206.81,117.77 206.87,117.03 206.94,113.56 207.00,112.68 207.06,115.89 207.12,113.10 207.19,110.03 207.25,109.29 207.31,110.89 207.37,114.52 207.44,109.89 207.50,114.52 207.56,114.62 207.62,110.93 207.69,112.72 207.75,112.40 207.81,114.40 207.87,113.94 207.94,109.85 208.00,112.61 208.06,112.51 208.12,111.77 208.19,107.91 208.25,111.05 208.31,110.41 208.37,109.27 208.44,110.20 208.50,109.28 208.56,107.42 208.62,107.54 208.69,107.88 208.75,105.64 208.81,105.13 208.87,104.92 208.94,106.03 209.00,105.17 209.06,103.39 209.12,100.10 209.19,102.16 209.25,103.97 209.31,104.60 209.37,106.24 209.44,106.07 209.50,105.98 209.56,108.83 209.62,109.43 209.69,108.50 209.75,109.75 209.81,109.09 209.87,111.20 209.94,111.30 210.00,111.09 210.06,111.86 210.13,112.86 210.19,112.89 210.25,113.27 210.31,113.83 210.38,114.30 210.44,115.76 210.50,117.37 210.56,115.98 210.63,113.86 210.69,116.46 210.75,119.18 210.81,117.60 210.88,112.29 210.94,118.03 211.00,118.19 211.06,113.58 211.13,117.62 211.19,117.64 211.25,114.12 211.31,115.28 211.38,116.56 211.44,116.16 211.50,111.75 211.56,113.98 211.63,117.07 211.69,116.27 211.75,110.30 211.81,115.71 211.88,114.00 211.94,114.13 212.00,116.54 212.06,114.50 212.13,117.79 212.19,115.71 212.25,111.41 212.31,115.26 212.38,110.12 212.44,113.96 212.50,112.92 212.56,113.97 212.63,116.83 212.69,110.89 212.75,109.73 212.81,112.87 212.88,110.24 212.94,114.17 213.00,103.24 213.06,109.93 213.13,110.27 213.19,112.03 213.25,112.61 213.31,112.16 213.38,112.95 213.44,115.60 213.50,106.35 213.56,114.74 213.63,115.11 213.69,108.03 213.75,110.78 213.81,110.64 213.88,113.82 213.94,112.30 214.00,109.97 214.06,105.83 214.13,110.73 214.19,111.96 214.25,110.42 214.31,112.31 214.38,112.32 214.44,111.68 214.50,110.08 214.56,110.82 214.63,109.23 214.69,108.94 214.75,108.36 214.81,105.73 214.88,106.23 214.94,102.95 215.00,105.46 215.06,102.11 215.13,102.06 215.19,101.87 215.25,99.91 215.32,99.26 215.38,96.03 215.44,93.93 215.50,90.40 215.57,97.70 215.63,98.00 215.69,98.61 215.75,101.41 215.82,101.73 215.88,103.94 215.94,101.79 216.00,105.95 216.07,104.28 216.13,104.07 216.19,106.28 216.25,108.53 216.32,107.09 216.38,110.22 216.44,107.24 216.50,109.39 216.57,109.69 216.63,108.20 216.69,107.57 216.75,108.89 216.82,106.04 216.88,107.06 216.94,105.65 217.00,106.48 217.07,102.13 217.13,105.21 217.19,102.55 217.25,101.71 217.32,97.80 217.38,103.94 217.44,102.68 217.50,102.27 217.57,104.28 217.63,103.62 217.69,107.23 217.75,105.44 217.82,107.15 217.88,108.99 217.94,107.93 218.00,108.84 218.07,110.29 218.13,105.33 218.19,110.34 218.25,111.51 218.32,111.69 218.38,108.23 218.44,112.61 218.50,107.28 218.57,114.17 218.63,114.25 218.69,112.63 218.75,113.60 218.82,110.52 218.88,112.27 218.94,111.21 219.00,108.66 219.07,116.59 219.13,113.85 219.19,107.03 219.25,113.88 219.32,116.00 219.38,115.29 219.44,116.19 219.50,113.20 219.57,111.96 219.63,111.72 219.69,110.47 219.75,104.97 219.82,110.33 219.88,109.47 219.94,116.95 220.00,115.79 220.07,111.51 220.13,116.43 220.19,109.80 220.25,114.82 220.32,114.95 220.38,112.70 220.44,106.51 220.50,116.51 220.57,113.32 220.63,111.23 220.69,111.51 220.76,113.64 220.82,113.39 220.88,111.83 220.94,112.79 221.01,112.69 221.07,111.63 221.13,111.27 221.19,105.80 221.26,111.24 221.32,110.56 221.38,108.80 221.44,109.50 221.51,109.76 221.57,109.23 221.63,107.01 221.69,105.67 221.76,105.14 221.82,106.81 221.88,105.11 221.94,102.94 222.01,101.20 222.07,104.31 222.13,106.41 222.19,104.37 222.26,104.55 222.32,105.70 222.38,106.17 222.44,106.87 222.51,109.84 222.57,109.84 222.63,108.87 222.69,109.99 222.76,110.67 222.82,110.68 222.88,111.40 222.94,109.73 223.01,109.69 223.07,112.58 223.13,111.32 223.19,113.83 223.26,110.52 223.32,116.74 223.38,117.01 223.44,115.13 223.51,111.34 223.57,114.54 223.63,113.75 223.69,109.05 223.76,107.86 223.82,102.63 223.88,109.32 223.94,110.57 224.01,110.94 224.07,115.65 224.13,111.96 224.19,112.70 224.26,109.23 224.32,110.73 224.38,115.07 224.44,113.18 224.51,110.69 224.57,111.77 224.63,114.10 224.69,109.75 224.76,117.84 224.82,110.61 224.88,114.83 224.94,116.68 225.01,113.32 225.07,108.98 225.13,117.00 225.19,112.86 225.26,112.34 225.32,113.66 225.38,113.54 225.44,112.66 225.51,111.68 225.57,107.93 225.63,118.79 225.69,107.05 225.76,109.52 225.82,117.29 225.88,110.22 225.95,109.19 226.01,113.22 226.07,111.29 226.13,113.81 226.20,115.76 226.26,113.73 226.32,114.20 226.38,109.46 226.45,114.16 226.51,110.37 226.57,109.76 226.63,108.93 226.70,112.38 226.76,111.07 226.82,114.97 226.88,115.71 226.95,108.05 227.01,101.08 227.07,115.91 227.13,115.52 227.20,103.06 227.26,112.19 227.32,109.65 227.38,108.76 227.45,111.33 227.51,110.57 227.57,116.78 227.63,113.50 227.70,111.10 227.76,109.42 227.82,113.54 227.88,112.05 227.95,116.18 228.01,111.06 228.07,117.75 228.13,115.01 228.20,114.49 228.26,110.81 228.32,116.05 228.38,115.29 228.45,105.93 228.51,112.70 228.57,113.64 228.63,105.19 228.70,113.67 228.76,117.71 228.82,115.95 228.88,115.69 228.95,112.85 229.01,114.18 229.07,113.51 229.13,110.36 229.20,110.45 229.26,114.81 229.32,114.15 229.38,107.00 229.45,112.90 229.51,111.88 229.57,110.48 229.63,112.31 229.70,109.34 229.76,111.60 229.82,110.64 229.88,108.42 229.95,110.05 230.01,107.90 230.07,106.83 230.13,106.77 230.20,106.69 230.26,105.61 230.32,104.00 230.38,100.10 230.45,102.31 230.51,102.50 230.57,104.45 230.63,105.50 230.70,108.85 230.76,105.92 230.82,107.21 230.88,107.27 230.95,110.53 231.01,109.49 231.07,110.96 231.14,111.70 231.20,112.80 231.26,113.03 231.32,110.77 231.39,113.46 231.45,114.28 231.51,114.37 231.57,115.04 231.64,115.64 231.70,113.46 231.76,111.66 231.82,117.09 231.89,114.57 231.95,104.60 232.01,112.44 232.07,119.46 232.14,112.58 232.20,114.52 232.26,114.65 232.32,113.77 232.39,112.37 232.45,114.00 232.51,111.94 232.57,113.87 232.64,112.33 232.70,113.36 232.76,117.66 232.82,119.58 232.89,109.71 232.95,117.93 233.01,118.71 233.07,112.55 233.14,112.45 233.20,116.41 233.26,112.20 233.32,117.72 233.39,117.41 233.45,120.46 233.51,110.50 233.57,116.31 233.64,112.17 233.70,121.60 233.76,115.50 233.82,118.78 233.89,119.04 233.95,115.08 234.01,112.82 234.07,112.31 234.14,117.13 234.20,120.82 234.26,115.77 234.32,118.12 234.39,114.53 234.45,115.12 234.51,111.22 234.57,114.34 234.64,116.48 234.70,110.06 234.76,116.61 234.82,111.66 234.89,107.77 234.95,115.98 235.01,108.12 235.07,114.91 235.14,119.33 235.20,116.23 235.26,113.03 235.32,117.01 235.39,117.69 235.45,109.33 235.51,116.17 235.57,109.43 235.64,114.83 235.70,113.15 235.76,112.02 235.82,116.54 235.89,116.98 235.95,114.41 236.01,114.85 236.07,112.43 236.14,116.06 236.20,116.60 236.26,113.93 236.32,116.79 236.39,117.28 236.45,107.03 236.51,115.67 236.58,118.41 236.64,111.88 236.70,115.11 236.76,121.07 236.83,116.71 236.89,111.53 236.95,114.52 237.01,116.59 237.08,114.02 237.14,116.73 237.20,115.90 237.26,110.46 237.33,117.92 237.39,109.86 237.45,121.99 237.51,120.13 237.58,113.04 237.64,114.85 237.70,110.41 237.76,114.18 237.83,112.89 237.89,114.34 237.95,117.02 238.01,121.88 238.08,117.50 238.14,115.44 238.20,116.04 238.26,119.56 238.33,114.04 238.39,118.11 238.45,112.56 238.51,116.61 238.58,113.79 238.64,120.22 238.70,119.54 238.76,116.11 238.83,111.30 238.89,123.09 238.95,123.00 239.01,118.36 239.08,117.47 239.14,113.70 239.20,120.79 239.26,115.07 239.33,114.78 239.39,113.00 239.45,112.63 239.51,117.83 239.58,116.03 239.64,116.76 239.70,116.57 239.76,116.41 239.83,112.65 239.89,115.38 239.95,115.08 240.01,112.58 240.08,115.03 240.14,113.42 240.20,118.34 240.26,113.61 240.33,113.64 240.39,115.55 240.45,115.24 240.51,116.03 240.58,107.76 240.64,113.96 240.70,107.08 240.76,108.78 240.83,112.97 240.89,113.13 240.95,113.43 241.01,116.32 241.08,116.18 241.14,113.34 241.20,117.57 241.26,109.99 241.33,113.97 241.39,116.02 241.45,113.76 241.51,119.88 241.58,112.97 241.64,116.37 241.70,111.84 241.77,112.06 241.83,116.95 241.89,110.34 241.95,115.48 242.02,115.40 242.08,111.44 242.14,111.68 242.20,116.29 242.27,111.46 242.33,116.09 242.39,117.02 242.45,116.24 242.52,113.08 242.58,119.46 242.64,113.46 242.70,116.47 242.77,114.93 242.83,110.51 242.89,112.83 242.95,115.23 243.02,108.98 243.08,118.88 243.14,114.20 243.20,111.64 243.27,118.37 243.33,105.12 243.39,110.05 243.45,110.00 243.52,112.32 243.58,113.33 243.64,119.42 243.70,115.88 243.77,110.27 243.83,112.81 243.89,117.26 243.95,115.81 244.02,120.45 244.08,114.86 244.14,118.15 244.20,117.16 244.27,118.12 244.33,103.57 244.39,119.69 244.45,121.67 244.52,108.81 244.58,116.36 244.64,116.32 244.70,118.32 244.77,111.46 244.83,112.78 244.89,112.50 244.95,113.24 245.02,111.90 245.08,113.21 245.14,114.90 245.20,104.77 245.27,113.53 245.33,115.76 245.39,113.07 245.45,119.73 245.52,113.63 245.58,116.04 245.64,118.49 245.70,112.42 245.77,108.32 245.83,103.21 245.89,112.50 245.95,116.64 246.02,118.60 246.08,115.54 246.14,116.63 246.20,114.02 246.27,109.69 246.33,112.42 246.39,113.87 246.45,113.86 246.52,119.60 246.58,113.05 246.64,114.71 246.70,117.51 246.77,115.65 246.83,116.13 246.89,113.84 246.96,116.24 247.02,104.86 247.08,114.07 247.14,113.12 247.21,111.80 247.27,115.77 247.33,115.16 247.39,112.54 247.46,111.16 247.52,114.19 247.58,110.18 247.64,112.37 247.71,110.58 247.77,106.16 247.83,105.70 247.89,115.01 247.96,111.32 248.02,112.76 248.08,105.17 248.14,109.95 248.21,107.37 248.27,104.89 248.33,103.21 248.39,110.23 248.46,108.59 248.52,109.14 248.58,106.47 248.64,106.69 248.71,105.77 248.77,102.71 248.83,104.96 248.89,100.34 248.96,100.07 249.02,99.91 249.08,95.53 249.14,92.16 249.21,92.56 249.27,91.04 249.33,94.00 249.39,82.90 249.46,93.49 249.52,88.22 249.58,91.79 249.64,93.48 249.71,95.81 249.77,95.21 249.83,98.61 249.89,101.57 249.96,101.37 250.02,104.89 250.08,105.14 250.14,102.92 250.21,106.97 250.27,104.42 250.33,108.64 250.39,104.33 250.46,107.45 250.52,111.29 250.58,105.83 250.64,107.41 250.71,107.37 250.77,107.90 250.83,110.14 250.89,106.18 250.96,107.67 251.02,107.23 251.08,105.68 251.14,106.36 251.21,100.55 251.27,104.91 251.33,101.25 251.39,96.42 251.46,101.46 251.52,92.40 251.58,100.02 251.64,99.38 251.71,102.15 251.77,102.13 251.83,104.85 251.89,105.97 251.96,107.42 252.02,107.67 252.08,106.52 252.14,108.97 252.21,110.19 252.27,111.32 252.33,110.85 252.40,111.48 252.46,111.99 252.52,113.32 252.58,114.10 252.65,115.29 252.71,116.01 252.77,112.04 252.83,119.87 252.90,117.62 252.96,117.80 253.02,119.08 253.08,116.40 253.15,110.37 253.21,118.31 253.27,117.70 253.33,114.45 253.40,118.52 253.46,117.49 253.52,117.41 253.58,116.20 253.65,113.50 253.71,114.24 253.77,119.89 253.83,116.57 253.90,118.49 253.96,114.61 254.02,116.95 254.08,112.37 254.15,109.87 254.21,116.42 254.27,115.01 254.33,113.35 254.40,117.64 254.46,119.96 254.52,107.79 254.58,111.76 254.65,121.28 254.71,116.07 254.77,117.35 254.83,117.77 254.90,115.83 254.96,120.16 255.02,120.01 255.08,112.28 255.15,114.06 255.21,116.12 255.27,115.52 255.33,114.90 255.40,115.65 255.46,109.01 255.52,117.34 255.58,113.85 255.65,118.92 255.71,113.71 255.77,110.38 255.83,115.66 255.90,117.76 255.96,120.26 256.02,112.30 256.08,116.86 256.15,115.03 256.21,109.28 256.27,115.69 256.33,115.06 256.40,112.06 256.46,114.26 256.52,113.17 256.58,113.87 256.65,113.94 256.71,112.23 256.77,112.80 256.83,106.06 256.90,112.14 256.96,109.28 257.02,109.14 257.08,109.31 257.15,108.97 257.21,106.62 257.27,104.60 257.33,106.14 257.40,108.79 257.46,108.53 257.52,108.14 257.59,111.23 257.65,110.94 257.71,108.98 257.77,111.61 257.84,111.12 257.90,112.44 257.96,113.08 258.02,113.43 258.09,114.58 258.15,114.11 258.21,106.78 258.27,114.81 258.34,115.57 258.40,116.26 258.46,115.19 258.52,111.62 258.59,117.39 258.65,112.39 258.71,116.03 258.77,118.68 258.84,112.70 258.90,119.25 258.96,117.20 259.02,122.87 259.09,117.66 259.15,114.31 259.21,116.26 259.27,121.21 259.34,112.14 259.40,114.80 259.46,116.28 259.52,115.62 259.59,110.99 259.65,115.34 259.71,113.73 259.77,113.68 259.84,113.53 259.90,113.55 259.96,113.49 260.02,112.30 260.09,108.30 260.15,111.29 260.21,109.19 260.27,109.47 260.34,108.42 260.40,107.81 260.46,107.41 260.52,107.88 260.59,103.30 260.65,104.81 260.71,109.50 260.77,108.66 260.84,109.81 260.90,110.95 260.96,110.19 261.02,109.41 261.09,112.13 261.15,110.72 261.21,113.16 261.27,112.72 261.34,112.90 261.40,113.22 261.46,113.85 261.52,114.23 261.59,115.02 261.65,115.95 261.71,116.02 261.77,116.75 261.84,116.77 261.90,112.63 261.96,117.22 262.02,121.28 262.09,120.55 262.15,117.09 262.21,119.45 262.27,115.21 262.34,117.35 262.40,116.79 262.46,124.02 262.52,116.66 262.59,119.87 262.65,113.85 262.71,116.67 262.78,113.70 262.84,113.62 262.90,116.96 262.96,117.19 263.03,111.71 263.09,106.59 263.15,116.89 263.21,112.35 263.28,104.56 263.34,118.53 263.40,114.35 263.46,120.37 263.53,111.00 263.59,113.09 263.65,115.42 263.71,117.91 263.78,121.02 263.84,114.55 263.90,112.32 263.96,113.67 264.03,118.27 264.09,112.23 264.15,113.43 264.21,119.19 264.28,119.59 264.34,117.45 264.40,110.95 264.46,116.50 264.53,109.43 264.59,110.94 264.65,119.68 264.71,115.46 264.78,108.45 264.84,114.80 264.90,112.71 264.96,113.81 265.03,115.78 265.09,117.24 265.15,114.30 265.21,109.33 265.28,113.55 265.34,108.30 265.40,118.85 265.46,118.47 265.53,113.52 265.59,115.44 265.65,121.74 265.71,119.01 265.78,106.37 265.84,117.36 265.90,117.17 265.96,115.32 266.03,114.99 266.09,112.20 266.15,118.51 266.21,111.79 266.28,115.81 266.34,116.16 266.40,111.99 266.46,116.54 266.53,116.39 266.59,118.81 266.65,118.34 266.71,112.63 266.78,114.23 266.84,115.14 266.90,117.36 266.96,110.95 267.03,110.53 267.09,115.30 267.15,118.25 267.21,118.96 267.28,103.54 267.34,109.30 267.40,117.56 267.46,115.00 267.53,116.86 267.59,109.49 267.65,109.82 267.71,113.18 267.78,113.00 267.84,116.45 267.90,116.21 267.96,114.36 268.03,111.91 268.09,105.07 268.15,111.05 268.22,110.84 268.28,111.01 268.34,109.99 268.40,107.15 268.47,104.15 268.53,106.50 268.59,105.28 268.65,100.48 268.72,103.86 268.78,96.71 268.84,102.46 268.90,98.63 268.97,96.80 269.03,97.53 269.09,86.30 269.15,94.93 269.22,97.87 269.28,96.60 269.34,94.50 269.40,102.51 269.47,100.74 269.53,102.74 269.59,101.22 269.65,107.43 269.72,107.02 269.78,101.93 269.84,109.58 269.90,108.58 269.97,109.68 270.03,112.56 270.09,112.47 270.15,113.06 270.22,115.42 270.28,115.74 270.34,113.87 270.40,118.33 270.47,122.73 270.53,116.62 270.59,118.59 270.65,111.44 270.72,114.93 270.78,119.95 270.84,116.60 270.90,121.06 270.97,121.35 271.03,116.86 271.09,114.96 271.15,117.94 271.22,107.48 271.28,117.67 271.34,106.38 271.40,115.42 271.47,115.72 271.53,114.33 271.59,113.51 271.65,112.53 271.72,112.54 271.78,110.98 271.84,109.46 271.90,111.75 271.97,109.88 272.03,108.54 272.09,105.43 272.15,106.06 272.22,103.60 272.28,106.62 272.34,105.36 272.40,105.39 272.47,98.16 272.53,96.50 272.59,102.58 272.65,100.79 272.72,107.17 272.78,103.25 272.84,105.70 272.90,105.98 272.97,107.59 273.03,108.28 273.09,109.70 273.15,103.54 273.22,111.64 273.28,110.51 273.34,112.70 273.41,107.37 273.47,108.76 273.53,111.02 273.59,109.62 273.66,106.21 273.72,104.32 273.78,100.76 273.84,99.96 273.91,102.94 273.97,102.96 274.03,97.96 274.09,97.17 274.16,90.41 274.22,94.07 274.28,87.25 274.34,94.76 274.41,81.51 274.47,79.92 274.53,75.20 274.59,89.74 274.66,93.10 274.72,91.26 274.78,89.00 274.84,97.37 274.91,92.97 274.97,97.36 275.03,100.16 275.09,104.20 275.16,100.96 275.22,101.38 275.28,100.13 275.34,107.07 275.41,104.95 275.47,108.58 275.53,106.80 275.59,107.43 275.66,113.46 275.72,104.31 275.78,105.71 275.84,109.02 275.91,109.00 275.97,110.96 276.03,109.00 276.09,112.64 276.16,111.24 276.22,111.76 276.28,104.83 276.34,109.14 276.41,106.95 276.47,109.91 276.53,110.57 276.59,115.20 276.66,113.92 276.72,114.98 276.78,113.00 276.84,115.52 276.91,116.44 276.97,115.81 277.03,111.89 277.09,111.80 277.16,110.66 277.22,111.76 277.28,117.15 277.34,116.16 277.41,115.41 277.47,116.79 277.53,111.90 277.59,109.55 277.66,117.23 277.72,113.05 277.78,114.25 277.84,112.79 277.91,115.95 277.97,110.53 278.03,112.30 278.09,112.65 278.16,108.12 278.22,116.33 278.28,114.41 278.34,112.14 278.41,111.16 278.47,113.96 278.53,112.20 278.60,109.81 278.66,114.70 278.72,114.90 278.78,113.94 278.85,120.73 278.91,112.45 278.97,112.57 279.03,108.32 279.10,118.38 279.16,113.39 279.22,113.12 279.28,112.37 279.35,118.10 279.41,121.19 279.47,114.59 279.53,114.04 279.60,114.13 279.66,117.04 279.72,117.59 279.78,107.32 279.85,118.09 279.91,118.19 279.97,114.65 280.03,113.87 280.10,118.85 280.16,121.04 280.22,118.66 280.28,113.58 280.35,107.80 280.41,113.56 280.47,113.73 280.53,112.07 280.60,116.50 280.66,115.04 280.72,112.76 280.78,116.55 280.85,118.09 280.91,111.83 280.97,110.52 281.03,117.50 281.10,113.26 281.16,113.41 281.22,113.99 281.28,115.71 281.35,116.97 281.41,114.11 281.47,111.46 281.53,114.31 281.60,112.54 281.66,119.61 281.72,111.26 281.78,111.33 281.85,113.28 281.91,108.00 281.97,113.50 282.03,113.65 282.10,116.93 282.16,116.04 282.22,112.73 282.28,113.18 282.35,110.68 282.41,115.92 282.47,107.04 282.53,116.94 282.60,114.77 282.66,116.15 282.72,120.83 282.78,112.02 282.85,117.10 282.91,117.05 282.97,114.02 283.03,117.95 283.10,117.35 283.16,121.05 283.22,114.66 283.28,112.71 283.35,109.22 283.41,111.34 283.47,110.24 283.53,112.55 283.60,114.74 283.66,112.38 283.72,112.33 283.78,113.10 283.85,111.09 283.91,112.47 283.97,111.88 284.04,111.11 284.10,110.85 284.16,110.23 284.22,111.55 284.29,110.35 284.35,108.36 284.41,110.13 284.47,107.31 284.54,106.35 284.60,108.86 284.66,107.78 284.72,104.00 284.79,107.03 284.85,106.48 284.91,107.66 284.97,109.99 285.04,110.28 285.10,109.37 285.16,110.19 285.22,107.17 285.29,111.84 285.35,108.97 285.41,112.37 285.47,112.17 285.54,111.46 285.60,113.12 285.66,114.15 285.72,110.79 285.79,108.27 285.85,113.08 285.91,115.28 285.97,109.85 286.04,114.68 286.10,111.39 286.16,113.16 286.22,113.59 286.29,111.12 286.35,120.79 286.41,111.84 286.47,114.28 286.54,114.48 286.60,113.29 286.66,115.44 286.72,117.80 286.79,120.57 286.85,113.64 286.91,118.30 286.97,114.98 287.04,119.82 287.10,114.88 287.16,107.38 287.22,115.92 287.29,113.57 287.35,116.96 287.41,116.18 287.47,114.10 287.54,114.60 287.60,113.12 287.66,114.08 287.72,111.44 287.79,109.36 287.85,112.23 287.91,106.14 287.97,112.84 288.04,116.94 288.10,111.16 288.16,111.02 288.22,116.79 288.29,113.92 288.35,117.93 288.41,112.31 288.47,108.76 288.54,112.67 288.60,115.18 288.66,109.83 288.72,111.47 288.79,112.44 288.85,110.59 288.91,113.73 288.97,109.89 289.04,119.44 289.10,111.69" fill="none" stroke="#ff7f0e" stroke-width="0.5" stroke-linejoin="round"/></g>
<g clip-path="url(#cTR)"><polyline points="313.10,120.55 313.16,119.55 313.23,114.35 313.29,116.48 313.35,115.85 313.41,119.12 313.48,110.97 313.54,116.00 313.60,120.96 313.66,116.69 313.73,117.50 313.79,114.83 313.85,119.20 313.91,116.61 313.98,120.26 314.04,121.15 314.10,116.83 314.16,120.83 314.23,118.32 314.29,119.80 314.35,117.27 314.41,121.58 314.48,121.96 314.54,122.04 314.60,119.18 314.66,115.68 314.73,116.82 314.79,118.37 314.85,119.22 314.91,116.04 314.98,119.24 315.04,116.57 315.10,115.88 315.16,117.56 315.23,118.31 315.29,118.40 315.35,119.61 315.41,118.83 315.48,121.69 315.54,121.70 315.60,116.05 315.66,120.18 315.73,124.03 315.79,116.87 315.85,116.97 315.91,119.22 315.98,123.31 316.04,115.82 316.10,117.92 316.16,111.44 316.23,121.17 316.29,114.95 316.35,121.28 316.41,121.19 316.48,123.40 316.54,122.47 316.60,121.81 316.66,117.53 316.73,112.12 316.79,119.21 316.85,124.80 316.91,118.01 316.98,124.03 317.04,119.22 317.10,120.76 317.16,120.05 317.23,121.27 317.29,117.62 317.35,116.11 317.41,125.21 317.48,121.98 317.54,116.67 317.60,119.82 317.66,119.72 317.73,121.78 317.79,122.43 317.85,115.11 317.91,120.12 317.98,118.90 318.04,117.87 318.10,123.80 318.16,122.15 318.23,121.25 318.29,119.08 318.35,117.92 318.41,122.03 318.48,120.05 318.54,119.77 318.60,119.75 318.66,115.74 318.73,121.24 318.79,119.07 318.85,124.72 318.91,119.75 318.98,119.22 319.04,117.84 319.10,120.79 319.17,120.94 319.23,115.71 319.29,120.90 319.35,114.36 319.42,123.92 319.48,123.96 319.54,119.70 319.60,122.27 319.67,117.07 319.73,123.73 319.79,116.19 319.85,121.25 319.92,124.18 319.98,125.47 320.04,122.38 320.10,121.76 320.17,119.31 320.23,123.26 320.29,114.74 320.35,118.07 320.42,120.50 320.48,121.34 320.54,114.58 320.60,121.74 320.67,118.01 320.73,116.21 320.79,121.96 320.85,116.07 320.92,120.80 320.98,116.21 321.04,116.02 321.10,118.19 321.17,119.11 321.23,122.43 321.29,114.15 321.35,115.82 321.42,117.72 321.48,115.82 321.54,119.37 321.60,122.10 321.67,117.10 321.73,121.69 321.79,120.63 321.85,117.50 321.92,123.10 321.98,119.19 322.04,119.94 322.10,120.51 322.17,120.06 322.23,119.29 322.29,118.95 322.35,118.47 322.42,117.44 322.48,117.12 322.54,116.00 322.60,116.15 322.67,115.04 322.73,115.05 322.79,114.09 322.85,113.73 322.92,114.37 322.98,112.29 323.04,111.93 323.10,110.66 323.17,110.72 323.23,108.96 323.29,107.80 323.35,108.11 323.42,103.80 323.48,108.50 323.54,108.35 323.60,108.07 323.67,110.30 323.73,112.88 323.79,111.99 323.85,113.41 323.92,111.98 323.98,113.16 324.04,115.65 324.10,114.79 324.17,115.80 324.23,116.74 324.29,116.35 324.35,117.44 324.42,117.75 324.48,116.56 324.54,118.77 324.60,114.01 324.67,119.72 324.73,121.63 324.79,119.92 324.85,119.26 324.92,119.09 324.98,118.07 325.04,120.87 325.11,124.41 325.17,121.49 325.23,118.36 325.29,116.69 325.36,124.20 325.42,119.12 325.48,116.66 325.54,122.76 325.61,115.22 325.67,121.21 325.73,119.64 325.79,120.56 325.86,115.05 325.92,117.21 325.98,119.08 326.04,120.29 326.11,123.53 326.17,120.18 326.23,120.97 326.29,119.84 326.36,124.23 326.42,109.34 326.48,117.49 326.54,115.88 326.61,121.25 326.67,119.97 326.73,122.91 326.79,117.83 326.86,114.95 326.92,115.96 326.98,118.25 327.04,118.15 327.11,118.66 327.17,123.54 327.23,118.13 327.29,123.73 327.36,119.01 327.42,118.20 327.48,117.69 327.54,120.93 327.61,119.69 327.67,118.47 327.73,118.27 327.79,118.77 327.86,120.84 327.92,117.91 327.98,113.19 328.04,119.75 328.11,114.36 328.17,121.03 328.23,119.59 328.29,114.72 328.36,115.79 328.42,113.86 328.48,116.22 328.54,119.07 328.61,117.31 328.67,118.48 328.73,114.77 328.79,115.73 328.86,114.11 328.92,118.75 328.98,117.65 329.04,118.04 329.11,113.69 329.17,117.37 329.23,113.88 329.29,116.65 329.36,112.22 329.42,114.25 329.48,121.42 329.54,120.50 329.61,117.60 329.67,114.40 329.73,117.24 329.79,120.90 329.86,117.06 329.92,118.01 329.98,116.03 330.04,115.48 330.11,116.87 330.17,119.19 330.23,120.22 330.29,118.64 330.36,118.03 330.42,117.04 330.48,111.77 330.54,119.60 330.61,116.93 330.67,116.22 330.73,117.60 330.79,120.84 330.86,119.17 330.92,113.25 330.98,121.17 331.05,119.52 331.11,116.50 331.17,121.13 331.23,119.64 331.30,115.85 331.36,116.68 331.42,123.50 331.48,117.77 331.55,120.11 331.61,122.79 331.67,116.94 331.73,116.64 331.80,117.71 331.86,121.82 331.92,117.88 331.98,117.64 332.05,117.92 332.11,114.55 332.17,118.30 332.23,120.50 332.30,118.36 332.36,118.73 332.42,117.69 332.48,124.83 332.55,117.12 332.61,114.18 332.67,116.81 332.73,120.30 332.80,113.68 332.86,116.67 332.92,113.50 332.98,115.89 333.05,118.90 333.11,122.04 333.17,117.73 333.23,116.62 333.30,118.82 333.36,121.03 333.42,115.81 333.48,119.65 333.55,114.48 333.61,119.26 333.67,117.09 333.73,118.86 333.80,117.21 333.86,116.98 333.92,123.54 333.98,120.22 334.05,120.09 334.11,120.31 334.17,119.22 334.23,112.82 334.30,121.81 334.36,118.18 334.42,120.59 334.48,121.45 334.55,123.50 334.61,121.88 334.67,122.77 334.73,119.11 334.80,116.59 334.86,119.00 334.92,118.54 334.98,122.28 335.05,118.59 335.11,122.25 335.17,122.36 335.23,119.40 335.30,118.46 335.36,113.41 335.42,116.28 335.48,115.61 335.55,113.34 335.61,112.05 335.67,113.49 335.73,109.22 335.80,108.37 335.86,107.03 335.92,109.91 335.98,108.35 336.05,107.75 336.11,103.80 336.17,104.14 336.23,104.34 336.30,103.18 336.36,94.16 336.42,96.93 336.48,87.00 336.55,95.74 336.61,92.57 336.67,95.99 336.73,102.24 336.80,105.27 336.86,99.51 336.92,105.19 336.99,106.55 337.05,107.31 337.11,109.39 337.17,107.02 337.24,110.32 337.30,110.12 337.36,111.68 337.42,112.99 337.49,115.38 337.55,116.19 337.61,116.99 337.67,117.97 337.74,117.96 337.80,117.60 337.86,116.79 337.92,115.78 337.99,121.20 338.05,119.33 338.11,121.17 338.17,120.27 338.24,116.33 338.30,117.52 338.36,117.50 338.42,117.03 338.49,118.87 338.55,114.79 338.61,120.05 338.67,116.03 338.74,118.95 338.80,119.68 338.86,112.73 338.92,118.37 338.99,115.87 339.05,119.40 339.11,119.33 339.17,112.48 339.24,116.75 339.30,117.65 339.36,116.82 339.42,116.58 339.49,116.16 339.55,117.16 339.61,116.82 339.67,117.83 339.74,118.36 339.80,109.45 339.86,124.05 339.92,117.01 339.99,118.95 340.05,118.60 340.11,119.65 340.17,120.70 340.24,117.57 340.30,121.75 340.36,121.20 340.42,118.30 340.49,114.78 340.55,118.53 340.61,118.44 340.67,121.56 340.74,117.90 340.80,115.92 340.86,113.75 340.92,117.44 340.99,116.97 341.05,115.87 341.11,114.89 341.17,112.43 341.24,117.02 341.30,114.64 341.36,118.46 341.42,114.71 341.49,117.12 341.55,116.02 341.61,115.60 341.67,117.73 341.74,117.98 341.80,117.36 341.86,117.60 341.92,118.02 341.99,118.74 342.05,118.73 342.11,116.01 342.17,120.52 342.24,119.11 342.30,119.49 342.36,117.19 342.42,121.07 342.49,120.54 342.55,114.19 342.61,118.30 342.67,118.75 342.74,119.26 342.80,119.96 342.86,115.01 342.93,119.51 342.99,124.66 343.05,123.47 343.11,123.19 343.18,120.80 343.24,123.19 343.30,119.46 343.36,122.66 343.43,119.26 343.49,120.45 343.55,117.61 343.61,118.34 343.68,120.75 343.74,114.12 343.80,120.85 343.86,119.34 343.93,114.07 343.99,110.52 344.05,115.63 344.11,118.02 344.18,123.08 344.24,115.94 344.30,113.57 344.36,119.85 344.43,116.71 344.49,115.74 344.55,117.80 344.61,120.72 344.68,116.57 344.74,119.61 344.80,109.48 344.86,122.38 344.93,117.09 344.99,118.21 345.05,122.12 345.11,120.85 345.18,117.24 345.24,115.53 345.30,116.57 345.36,113.29 345.43,118.24 345.49,121.57 345.55,118.72 345.61,120.56 345.68,124.18 345.74,116.45 345.80,121.34 345.86,114.61 345.93,114.83 345.99,120.70 346.05,121.23 346.11,117.24 346.18,114.90 346.24,123.77 346.30,121.94 346.36,120.85 346.43,117.50 346.49,118.77 346.55,116.65 346.61,122.81 346.68,119.58 346.74,115.78 346.80,123.59 346.86,112.53 346.93,121.08 346.99,118.34 347.05,121.43 347.11,117.31 347.18,116.84 347.24,118.96 347.30,114.54 347.36,116.58 347.43,115.94 347.49,120.94 347.55,115.85 347.61,116.09 347.68,119.80 347.74,114.30 347.80,118.20 347.86,121.42 347.93,118.97 347.99,116.11 348.05,118.26 348.11,116.27 348.18,115.17 348.24,116.70 348.30,117.48 348.36,118.38 348.43,117.84 348.49,115.58 348.55,116.27 348.61,119.65 348.68,109.98 348.74,121.65 348.80,116.94 348.87,119.28 348.93,118.18 348.99,120.83 349.05,119.87 349.12,116.47 349.18,121.93 349.24,109.21 349.30,116.56 349.37,118.96 349.43,123.78 349.49,121.70 349.55,118.05 349.62,116.39 349.68,122.21 349.74,117.93 349.80,118.19 349.87,122.33 349.93,118.27 349.99,120.49 350.05,122.27 350.12,114.39 350.18,120.50 350.24,122.13 350.30,122.12 350.37,114.11 350.43,116.40 350.49,117.46 350.55,120.78 350.62,117.86 350.68,118.60 350.74,117.01 350.80,122.26 350.87,117.04 350.93,116.44 350.99,120.98 351.05,121.13 351.12,119.21 351.18,122.21 351.24,119.75 351.30,119.83 351.37,115.90 351.43,121.69 351.49,115.56 351.55,116.25 351.62,123.61 351.68,117.04 351.74,120.67 351.80,118.19 351.87,119.64 351.93,118.09 351.99,124.95 352.05,121.35 352.12,124.88 352.18,120.33 352.24,121.18 352.30,119.42 352.37,115.51 352.43,118.24 352.49,118.49 352.55,117.89 352.62,119.96 352.68,115.68 352.74,114.37 352.80,116.34 352.87,116.21 352.93,117.62 352.99,120.30 353.05,121.14 353.12,122.41 353.18,121.91 353.24,116.15 353.30,120.03 353.37,119.10 353.43,117.28 353.49,119.45 353.55,121.50 353.62,121.25 353.68,120.38 353.74,116.92 353.80,120.74 353.87,120.92 353.93,118.34 353.99,117.06 354.05,118.48 354.12,119.21 354.18,115.69 354.24,118.28 354.30,118.05 354.37,115.53 354.43,122.06 354.49,115.17 354.55,116.67 354.62,119.19 354.68,114.81 354.74,114.69 354.81,115.39 354.87,114.80 354.93,114.61 354.99,111.12 355.06,117.34 355.12,114.77 355.18,115.65 355.24,111.96 355.31,116.13 355.37,116.82 355.43,110.19 355.49,111.01 355.56,106.61 355.62,107.14 355.68,101.17 355.74,99.74 355.81,99.32 355.87,93.73 355.93,97.16 355.99,92.82 356.06,88.48 356.12,90.56 356.18,89.96 356.24,88.75 356.31,82.01 356.37,86.71 356.43,88.05 356.49,71.58 356.56,76.63 356.62,80.99 356.68,80.97 356.74,79.19 356.81,71.40 356.87,69.33 356.93,66.20 356.99,73.03 357.06,68.75 357.12,86.72 357.18,77.89 357.24,76.52 357.31,81.54 357.37,78.49 357.43,79.53 357.49,91.79 357.56,81.00 357.62,92.68 357.68,91.38 357.74,95.04 357.81,91.79 357.87,100.54 357.93,93.01 357.99,101.49 358.06,102.91 358.12,108.33 358.18,106.59 358.24,109.59 358.31,114.70 358.37,111.84 358.43,114.80 358.49,111.88 358.56,113.50 358.62,119.19 358.68,121.93 358.74,123.10 358.81,119.39 358.87,117.72 358.93,123.16 358.99,121.37 359.06,120.83 359.12,124.83 359.18,123.35 359.24,123.42 359.31,121.43 359.37,120.26 359.43,124.79 359.49,122.45 359.56,118.23 359.62,124.35 359.68,120.23 359.74,112.44 359.81,125.25 359.87,124.44 359.93,126.75 359.99,125.45 360.06,125.03 360.12,123.92 360.18,124.88 360.24,122.94 360.31,124.25 360.37,125.03 360.43,128.15 360.49,129.98 360.56,128.44 360.62,124.05 360.68,124.13 360.75,125.71 360.81,121.72 360.87,127.88 360.93,128.23 361.00,122.51 361.06,122.81 361.12,123.54 361.18,122.70 361.25,125.38 361.31,130.50 361.37,125.79 361.43,122.41 361.50,122.19 361.56,123.20 361.62,123.29 361.68,126.84 361.75,123.30 361.81,124.20 361.87,127.75 361.93,121.54 362.00,122.77 362.06,122.70 362.12,122.47 362.18,125.38 362.25,125.65 362.31,122.25 362.37,122.63 362.43,120.17 362.50,122.58 362.56,121.70 362.62,122.47 362.68,120.59 362.75,125.25 362.81,127.40 362.87,121.71 362.93,123.44 363.00,124.54 363.06,119.07 363.12,126.60 363.18,123.98 363.25,121.23 363.31,124.01 363.37,124.69 363.43,122.99 363.50,124.68 363.56,120.24 363.62,126.99 363.68,122.19 363.75,122.22 363.81,126.66 363.87,123.19 363.93,122.29 364.00,119.16 364.06,120.32 364.12,121.42 364.18,123.90 364.25,124.29 364.31,122.03 364.37,126.36 364.43,121.46 364.50,121.56 364.56,120.73 364.62,121.93 364.68,122.56 364.75,127.04 364.81,126.59 364.87,122.37 364.93,119.09 365.00,123.69 365.06,122.50 365.12,124.72 365.18,119.53 365.25,127.12 365.31,118.57 365.37,122.38 365.43,127.62 365.50,121.96 365.56,120.65 365.62,116.98 365.68,120.66 365.75,122.37 365.81,122.19 365.87,121.11 365.93,122.70 366.00,116.99 366.06,123.82 366.12,120.51 366.18,121.39 366.25,124.05 366.31,110.83 366.37,119.67 366.43,121.83 366.50,122.13 366.56,120.58 366.62,110.56 366.69,119.18 366.75,121.79 366.81,119.17 366.87,121.09 366.94,118.06 367.00,118.19 367.06,117.39 367.12,118.37 367.19,118.85 367.25,122.16 367.31,115.37 367.37,116.36 367.44,118.06 367.50,116.76 367.56,120.39 367.62,120.42 367.69,120.32 367.75,117.11 367.81,118.65 367.87,118.23 367.94,113.49 368.00,114.73 368.06,118.16 368.12,115.15 368.19,115.15 368.25,116.16 368.31,115.28 368.37,115.09 368.44,114.72 368.50,113.55 368.56,114.25 368.62,109.18 368.69,111.19 368.75,111.90 368.81,112.34 368.87,107.27 368.94,108.26 369.00,109.23 369.06,109.23 369.12,107.27 369.19,106.12 369.25,105.70 369.31,103.10 369.37,105.48 369.44,107.28 369.50,107.11 369.56,109.32 369.62,107.97 369.69,110.04 369.75,110.12 369.81,109.30 369.87,105.26 369.94,111.79 370.00,111.25 370.06,112.65 370.12,112.85 370.19,113.32 370.25,113.21 370.31,111.73 370.37,114.08 370.44,114.64 370.50,112.61 370.56,110.45 370.62,113.10 370.69,115.34 370.75,116.58 370.81,117.09 370.87,110.78 370.94,114.81 371.00,114.59 371.06,114.35 371.12,114.17 371.19,112.91 371.25,114.68 371.31,112.90 371.37,114.98 371.44,115.54 371.50,117.91 371.56,113.47 371.62,104.60 371.69,112.37 371.75,111.26 371.81,112.81 371.87,115.76 371.94,115.83 372.00,116.69 372.06,112.19 372.12,111.17 372.19,115.86 372.25,113.21 372.31,117.61 372.38,113.56 372.44,112.46 372.50,116.33 372.56,111.42 372.63,115.43 372.69,113.78 372.75,110.50 372.81,118.16 372.88,113.39 372.94,111.08 373.00,111.11 373.06,114.79 373.13,115.18 373.19,113.67 373.25,110.72 373.31,116.38 373.38,117.29 373.44,116.96 373.50,112.88 373.56,119.48 373.63,118.02 373.69,116.84 373.75,117.53 373.81,115.81 373.88,117.11 373.94,120.22 374.00,110.35 374.06,112.91 374.13,115.78 374.19,116.66 374.25,116.94 374.31,119.62 374.38,117.82 374.44,114.60 374.50,114.29 374.56,111.44 374.63,107.66 374.69,113.86 374.75,112.24 374.81,112.90 374.88,115.15 374.94,114.87 375.00,111.88 375.06,114.45 375.13,114.02 375.19,113.53 375.25,112.35 375.31,110.14 375.38,114.02 375.44,112.47 375.50,111.85 375.56,112.73 375.63,112.06 375.69,112.49 375.75,110.67 375.81,111.40 375.88,110.80 375.94,107.50 376.00,107.61 376.06,109.24 376.13,103.30 376.19,107.20 376.25,108.13 376.31,110.55 376.38,109.66 376.44,110.94 376.50,112.23 376.56,111.87 376.63,112.01 376.69,113.32 376.75,114.99 376.81,115.98 376.88,116.14 376.94,115.49 377.00,115.79 377.06,117.92 377.13,113.74 377.19,118.92 377.25,118.91 377.31,119.71 377.38,117.43 377.44,117.82 377.50,118.80 377.56,110.08 377.63,118.76 377.69,118.89 377.75,117.76 377.81,118.38 377.88,116.51 377.94,120.77 378.00,119.36 378.06,119.66 378.13,120.59 378.19,119.99 378.25,117.56 378.32,116.16 378.38,119.70 378.44,119.70 378.50,119.04 378.57,116.85 378.63,117.99 378.69,115.36 378.75,114.68 378.82,116.28 378.88,120.29 378.94,119.63 379.00,119.54 379.07,119.59 379.13,110.43 379.19,119.74 379.25,116.82 379.32,113.56 379.38,114.60 379.44,114.74 379.50,121.03 379.57,114.23 379.63,120.80 379.69,116.18 379.75,116.72 379.82,116.73 379.88,117.60 379.94,119.04 380.00,111.21 380.07,114.23 380.13,115.26 380.19,112.69 380.25,114.99 380.32,116.36 380.38,110.85 380.44,118.41 380.50,114.83 380.57,119.06 380.63,119.05 380.69,120.00 380.75,117.24 380.82,113.70 380.88,119.47 380.94,122.88 381.00,120.59 381.07,116.81 381.13,119.82 381.19,120.12 381.25,117.27 381.32,119.17 381.38,121.08 381.44,117.90 381.50,121.38 381.57,119.24 381.63,114.45 381.69,124.33 381.75,112.41 381.82,119.94 381.88,118.19 381.94,119.47 382.00,116.48 382.07,116.77 382.13,116.15 382.19,115.69 382.25,111.91 382.32,112.36 382.38,111.80 382.44,107.69 382.50,105.67 382.57,104.43 382.63,105.79 382.69,102.06 382.75,99.67 382.82,98.62 382.88,101.07 382.94,94.61 383.00,91.21 383.07,98.57 383.13,86.66 383.19,82.50 383.25,95.32 383.32,96.02 383.38,93.30 383.44,95.43 383.50,100.48 383.57,101.86 383.63,105.75 383.69,100.03 383.75,106.94 383.82,104.32 383.88,107.82 383.94,108.62 384.00,110.98 384.07,111.86 384.13,113.31 384.19,113.93 384.26,116.08 384.32,117.12 384.38,118.53 384.44,117.73 384.51,112.72 384.57,120.01 384.63,121.38 384.69,116.44 384.76,112.93 384.82,121.10 384.88,113.19 384.94,123.65 385.01,116.65 385.07,110.00 385.13,119.47 385.19,120.53 385.26,118.18 385.32,115.35 385.38,115.68 385.44,116.60 385.51,110.40 385.57,117.48 385.63,111.22 385.69,117.08 385.76,116.70 385.82,110.53 385.88,118.32 385.94,116.12 386.01,116.99 386.07,118.76 386.13,113.14 386.19,118.85 386.26,114.73 386.32,118.42 386.38,115.24 386.44,114.82 386.51,112.18 386.57,112.09 386.63,112.07 386.69,114.64 386.76,113.38 386.82,116.37 386.88,118.09 386.94,112.69 387.01,117.51 387.07,113.91 387.13,111.87 387.19,115.50 387.26,112.03 387.32,110.21 387.38,115.59 387.44,113.83 387.51,111.07 387.57,115.20 387.63,115.03 387.69,117.55 387.76,115.30 387.82,114.89 387.88,119.71 387.94,114.23 388.01,114.47 388.07,110.95 388.13,118.54 388.19,117.04 388.26,115.08 388.32,115.31 388.38,120.21 388.44,119.04 388.51,113.83 388.57,118.86 388.63,119.09 388.69,117.78 388.76,117.36 388.82,117.65 388.88,117.35 388.94,120.15 389.01,117.26 389.07,116.34 389.13,117.97 389.19,117.80 389.26,116.82 389.32,117.16 389.38,113.97 389.44,115.42 389.51,114.36 389.57,113.45 389.63,114.43 389.69,113.07 389.76,111.42 389.82,112.55 389.88,110.06 389.94,109.03 390.01,108.19 390.07,110.55 390.13,110.68 390.20,106.61 390.26,105.29 390.32,103.30 390.38,109.31 390.45,107.46 390.51,110.97 390.57,110.73 390.63,110.39 390.70,109.59 390.76,112.09 390.82,111.94 390.88,112.88 390.95,112.50 391.01,113.95 391.07,110.70 391.13,109.89 391.20,116.57 391.26,115.85 391.32,115.10 391.38,111.44 391.45,114.44 391.51,112.28 391.57,112.95 391.63,109.46 391.70,111.18 391.76,109.55 391.82,108.72 391.88,106.23 391.95,106.83 392.01,104.78 392.07,102.88 392.13,102.58 392.20,97.09 392.26,95.99 392.32,91.16 392.38,87.20 392.45,89.83 392.51,100.08 392.57,97.01 392.63,102.15 392.70,101.42 392.76,103.21 392.82,102.17 392.88,102.08 392.95,107.51 393.01,106.00 393.07,107.34 393.13,109.91 393.20,109.29 393.26,111.58 393.32,113.30 393.38,114.20 393.45,113.77 393.51,116.48 393.57,117.47 393.63,113.78 393.70,119.24 393.76,119.68 393.82,119.76 393.88,120.31 393.95,120.13 394.01,118.37 394.07,117.23 394.13,118.16 394.20,116.73 394.26,118.57 394.32,120.54 394.38,119.64 394.45,109.55 394.51,119.19 394.57,118.75 394.63,112.03 394.70,116.19 394.76,111.26 394.82,111.81 394.88,113.98 394.95,113.46 395.01,116.83 395.07,120.50 395.13,114.34 395.20,119.83 395.26,116.62 395.32,114.46 395.38,116.26 395.45,115.26 395.51,112.15 395.57,120.33 395.63,114.39 395.70,117.62 395.76,119.07 395.82,118.58 395.88,118.41 395.95,113.06 396.01,116.71 396.07,114.37 396.14,120.84 396.20,114.07 396.26,116.59 396.32,115.41 396.39,119.85 396.45,116.24 396.51,117.28 396.57,118.09 396.64,117.50 396.70,117.11 396.76,116.74 396.82,119.50 396.89,115.72 396.95,120.58 397.01,120.00 397.07,121.71 397.14,123.12 397.20,113.61 397.26,113.64 397.32,119.06 397.39,118.98 397.45,120.21 397.51,117.98 397.57,118.23 397.64,116.80 397.70,118.48 397.76,121.72 397.82,119.02 397.89,115.76 397.95,116.88 398.01,118.02 398.07,119.25 398.14,113.91 398.20,119.15 398.26,123.80 398.32,119.36 398.39,123.86 398.45,118.62 398.51,118.98 398.57,114.88 398.64,114.99 398.70,118.96 398.76,118.62 398.82,116.31 398.89,113.03 398.95,119.78 399.01,114.30 399.07,120.14 399.14,117.09 399.20,112.22 399.26,111.20 399.32,112.71 399.39,116.74 399.45,115.56 399.51,113.82 399.57,113.67 399.64,112.74 399.70,111.28 399.76,112.35 399.82,108.59 399.89,110.72 399.95,107.50 400.01,105.55 400.07,104.99 400.14,104.88 400.20,101.01 400.26,100.45 400.32,99.55 400.39,103.32 400.45,94.13 400.51,91.70 400.57,94.69 400.64,101.06 400.70,100.40 400.76,104.09 400.82,104.29 400.89,104.17 400.95,107.77 401.01,105.69 401.07,110.07 401.14,110.52 401.20,109.25 401.26,109.78 401.32,111.82 401.39,112.96 401.45,114.19 401.51,114.55 401.57,114.51 401.64,116.22 401.70,117.79 401.76,118.75 401.82,117.79 401.89,115.99 401.95,118.05 402.01,120.96 402.08,115.52 402.14,115.91 402.20,118.14 402.26,120.40 402.33,118.85 402.39,118.69 402.45,119.13 402.51,117.25 402.58,122.50 402.64,117.74 402.70,118.70 402.76,111.89 402.83,120.11 402.89,118.29 402.95,118.84 403.01,122.86 403.08,112.65 403.14,118.72 403.20,116.87 403.26,117.78 403.33,118.41 403.39,118.17 403.45,122.69 403.51,117.07 403.58,119.25 403.64,118.54 403.70,115.22 403.76,117.84 403.83,113.17 403.89,114.90 403.95,116.38 404.01,116.93 404.08,114.40 404.14,110.80 404.20,113.68 404.26,114.76 404.33,117.60 404.39,121.39 404.45,114.82 404.51,117.02 404.58,116.99 404.64,118.39 404.70,117.96 404.76,118.34 404.83,118.65 404.89,118.69 404.95,118.90 405.01,113.19 405.08,112.40 405.14,122.33 405.20,117.72 405.26,119.10 405.33,114.48 405.39,115.74 405.45,122.78 405.51,115.46 405.58,122.04 405.64,116.88 405.70,118.36 405.76,118.37 405.83,116.50 405.89,114.49 405.95,112.72 406.01,111.38 406.08,111.14 406.14,110.93 406.20,109.87 406.26,105.26 406.33,106.74 406.39,100.51 406.45,102.17 406.51,102.20 406.58,94.27 406.64,99.40 406.70,95.63 406.76,93.98 406.83,84.69 406.89,84.08 406.95,86.08 407.01,74.00 407.08,86.96 407.14,82.04 407.20,87.43 407.26,97.83 407.33,89.83 407.39,94.93 407.45,102.73 407.51,101.12 407.58,102.63 407.64,105.14 407.70,107.71 407.76,104.02 407.83,108.50 407.89,110.30 407.95,111.04 408.02,114.32 408.08,113.95 408.14,115.38 408.20,117.44 408.27,119.17 408.33,121.17 408.39,115.88 408.45,121.41 408.52,121.21 408.58,119.91 408.64,124.42 408.70,113.48 408.77,122.40 408.83,124.86 408.89,120.97 408.95,120.96 409.02,118.04 409.08,117.00 409.14,121.59 409.20,118.34 409.27,118.50 409.33,116.08 409.39,122.22 409.45,120.08 409.52,122.16 409.58,119.76 409.64,116.89 409.70,117.81 409.77,120.79 409.83,125.34 409.89,121.58 409.95,120.59 410.02,118.86 410.08,116.81 410.14,117.02 410.20,118.85 410.27,117.35 410.33,121.73 410.39,121.49 410.45,116.42 410.52,118.86 410.58,117.42 410.64,117.65 410.70,118.19 410.77,120.30 410.83,117.96 410.89,120.01 410.95,116.35 411.02,115.56 411.08,119.01 411.14,115.62 411.20,116.81 411.27,115.31 411.33,117.15 411.39,114.14 411.45,117.21 411.52,111.25 411.58,116.66 411.64,112.48 411.70,107.20 411.77,107.31 411.83,111.29 411.89,111.46 411.95,106.17 412.02,109.11 412.08,109.88 412.14,106.22 412.20,106.30 412.27,108.92 412.33,108.78 412.39,106.36 412.45,106.80 412.52,105.97 412.58,102.63 412.64,105.93 412.70,101.04 412.77,91.27 412.83,88.71 412.89,89.51 412.95,83.94 413.02,82.38 413.08,77.42 413.14,85.16 413.20,77.50 413.27,69.27 413.33,79.35 413.39,74.66 413.45,81.80 413.52,72.78 413.58,79.50 413.64,64.42 413.70,59.09 413.77,76.80 413.83,55.00 413.89,65.54 413.96,78.35 414.02,79.52 414.08,69.79 414.14,80.16 414.21,63.21 414.27,69.50 414.33,81.23 414.39,83.30 414.46,83.64 414.52,86.62 414.58,92.81 414.64,88.20 414.71,89.74 414.77,92.60 414.83,92.93 414.89,99.79 414.96,104.33 415.02,102.29 415.08,108.57 415.14,105.29 415.21,112.47 415.27,105.24 415.33,107.76 415.39,106.88 415.46,108.57 415.52,112.51 415.58,108.11 415.64,113.64 415.71,117.32 415.77,114.80 415.83,109.42 415.89,113.93 415.96,113.33 416.02,115.43 416.08,116.46 416.14,117.54 416.21,117.14 416.27,119.73 416.33,117.57 416.39,113.86 416.46,116.73 416.52,116.56 416.58,119.64 416.64,119.91 416.71,117.95 416.77,120.82 416.83,120.67 416.89,120.32 416.96,119.51 417.02,119.00 417.08,120.44 417.14,119.88 417.21,119.17 417.27,117.43 417.33,118.46 417.39,119.92 417.46,121.07 417.52,121.67 417.58,118.75 417.64,122.74 417.71,123.04 417.77,120.69 417.83,121.91 417.89,121.37 417.96,119.97 418.02,121.21 418.08,120.30 418.14,120.31 418.21,121.30 418.27,123.26 418.33,120.04 418.39,121.53 418.46,123.13 418.52,124.21 418.58,122.06 418.64,117.79 418.71,122.40 418.77,120.68 418.83,123.76 418.89,124.67 418.96,120.27 419.02,122.19 419.08,125.65 419.14,120.29 419.21,117.91 419.27,120.46 419.33,120.20 419.39,119.76 419.46,124.91 419.52,119.79 419.58,117.76 419.64,122.10 419.71,126.31 419.77,123.55 419.83,121.10 419.90,123.59 419.96,124.05 420.02,124.30 420.08,123.30 420.15,117.19 420.21,121.61 420.27,118.02 420.33,121.43 420.40,121.89 420.46,122.35 420.52,121.96 420.58,118.73 420.65,119.72 420.71,120.41 420.77,119.86 420.83,124.96 420.90,116.86 420.96,125.71 421.02,123.93 421.08,119.77 421.15,124.54 421.21,124.45 421.27,123.62 421.33,125.31 421.40,121.95 421.46,120.54 421.52,118.98 421.58,121.49 421.65,120.51 421.71,119.34 421.77,123.15 421.83,123.15 421.90,120.91 421.96,121.50 422.02,119.51 422.08,121.80 422.15,120.34 422.21,124.20 422.27,121.30 422.33,123.04 422.40,123.77 422.46,120.13 422.52,121.53 422.58,119.24 422.65,123.42 422.71,119.34 422.77,117.48 422.83,123.23 422.90,123.50 422.96,124.20 423.02,118.65 423.08,116.09 423.15,121.80 423.21,123.64 423.27,121.32 423.33,124.89 423.40,123.21 423.46,120.28 423.52,119.47 423.58,118.40 423.65,118.76 423.71,119.65 423.77,126.15 423.83,116.95 423.90,123.65 423.96,119.80 424.02,121.57 424.08,119.15 424.15,123.78 424.21,124.75 424.27,125.86 424.33,121.95 424.40,121.32 424.46,120.89 424.52,120.68 424.58,122.29 424.65,119.58 424.71,128.20 424.77,122.46 424.83,123.13 424.90,122.54 424.96,123.64 425.02,124.45 425.08,123.50 425.15,125.71 425.21,123.35 425.27,113.78 425.33,122.57 425.40,122.02 425.46,119.51 425.52,120.42 425.58,119.01 425.65,118.00 425.71,117.54 425.77,117.91 425.84,116.22 425.90,113.95 425.96,116.12 426.02,115.67 426.09,110.29 426.15,111.09 426.21,108.52 426.27,107.25 426.34,108.05 426.40,109.37 426.46,104.24 426.52,101.20 426.59,108.92 426.65,106.55 426.71,109.98 426.77,107.76 426.84,108.66 426.90,109.21 426.96,112.31 427.02,111.68 427.09,111.92 427.15,113.03 427.21,111.99 427.27,113.17 427.34,115.07 427.40,115.60 427.46,114.27 427.52,116.00 427.59,113.62 427.65,116.62 427.71,117.09 427.77,115.65 427.84,117.47 427.90,114.90 427.96,115.58 428.02,119.27 428.09,114.64 428.15,117.49 428.21,114.42 428.27,121.14 428.34,107.72 428.40,117.39 428.46,117.23 428.52,113.85 428.59,118.39 428.65,114.53 428.71,120.63 428.77,113.58 428.84,110.03 428.90,115.28 428.96,120.47 429.02,116.01 429.09,116.47 429.15,118.14 429.21,114.53 429.27,118.15 429.34,118.69 429.40,117.12 429.46,114.92 429.52,117.33 429.59,115.65 429.65,116.76 429.71,114.07 429.77,116.26 429.84,117.04 429.90,115.41 429.96,112.36 430.02,120.60 430.09,115.77 430.15,120.79 430.21,116.87 430.27,119.66 430.34,115.32 430.40,112.44 430.46,118.01 430.52,115.80 430.59,118.70 430.65,116.17 430.71,113.50 430.77,115.63 430.84,118.17 430.90,113.70 430.96,116.36 431.02,116.02 431.09,118.30 431.15,115.84 431.21,121.22 431.27,116.69 431.34,118.01 431.40,121.16 431.46,121.32 431.52,119.91 431.59,116.33 431.65,115.39 431.71,117.05 431.78,115.03 431.84,117.83 431.90,119.72 431.96,114.91 432.03,116.84 432.09,120.60 432.15,118.87 432.21,115.93 432.28,115.52 432.34,116.96 432.40,116.88 432.46,117.48 432.53,113.79 432.59,115.92 432.65,114.69 432.71,119.90 432.78,118.49 432.84,116.67 432.90,116.77 432.96,117.83 433.03,121.36 433.09,114.61 433.15,116.90 433.21,118.75 433.28,107.70 433.34,111.88 433.40,116.73 433.46,117.15 433.53,114.60 433.59,111.75 433.65,116.20 433.71,116.73 433.78,117.11 433.84,111.36 433.90,114.02 433.96,113.91 434.03,115.18 434.09,114.36 434.15,114.28 434.21,112.95 434.28,111.42 434.34,112.53 434.40,111.76 434.46,107.41 434.53,108.08 434.59,107.23 434.65,103.99 434.71,106.90 434.78,106.00 434.84,104.68 434.90,99.15 434.96,98.37 435.03,100.46 435.09,92.70 435.15,98.43 435.21,96.49 435.28,103.89 435.34,99.59 435.40,100.90 435.46,103.77 435.53,108.14 435.59,107.51 435.65,109.28 435.71,111.71 435.78,111.23 435.84,111.91 435.90,115.32 435.96,116.46 436.03,116.58 436.09,119.04 436.15,119.19 436.21,113.60 436.28,121.04 436.34,116.07 436.40,119.09 436.46,119.20 436.53,118.36 436.59,118.80 436.65,118.24 436.71,122.34 436.78,120.91 436.84,121.92 436.90,121.48 436.96,120.52 437.03,120.90 437.09,118.86 437.15,123.02 437.21,123.83 437.28,122.60 437.34,124.40 437.40,124.33 437.46,121.09 437.53,120.96 437.59,124.41 437.65,125.23 437.72,125.29 437.78,124.77 437.84,123.85 437.90,125.21 437.97,125.46 438.03,122.46 438.09,123.25 438.15,126.12 438.22,120.81 438.28,121.84 438.34,119.74 438.40,124.66 438.47,126.11 438.53,125.06 438.59,124.95 438.65,126.83 438.72,122.51 438.78,126.17 438.84,129.58 438.90,122.89 438.97,124.50 439.03,120.85 439.09,125.36 439.15,128.88 439.22,119.73 439.28,119.28 439.34,117.64 439.40,122.84 439.47,120.12 439.53,122.46 439.59,123.77 439.65,123.34 439.72,126.48 439.78,122.60 439.84,123.50 439.90,121.84 439.97,124.78 440.03,124.63 440.09,127.49 440.15,124.06 440.22,123.86 440.28,124.33 440.34,120.49 440.40,121.24 440.47,122.98 440.53,125.39 440.59,122.67 440.65,117.96 440.72,123.76 440.78,123.50 440.84,121.29 440.90,125.16 440.97,121.77 441.03,126.20 441.09,122.86 441.15,119.16 441.22,122.22 441.28,120.33 441.34,122.32 441.40,121.18 441.47,120.23 441.53,118.23 441.59,116.04 441.65,115.13 441.72,113.11 441.78,111.45 441.84,109.41 441.90,106.86 441.97,108.20 442.03,108.82 442.09,103.40 442.15,102.86 442.22,105.45 442.28,100.69 442.34,100.45 442.40,96.03 442.47,95.47 442.53,96.52 442.59,83.50 442.65,87.67 442.72,95.92 442.78,96.30 442.84,102.80 442.90,102.49 442.97,102.54 443.03,102.21 443.09,106.81 443.15,108.80 443.22,109.70 443.28,110.86 443.34,110.75 443.40,110.43 443.47,113.59 443.53,114.61 443.59,114.49 443.66,116.08 443.72,112.43 443.78,118.79 443.84,119.81 443.91,120.44 443.97,116.64 444.03,117.76 444.09,119.72 444.16,119.54 444.22,120.63 444.28,118.84 444.34,119.25 444.41,120.03 444.47,124.10 444.53,121.11 444.59,121.59 444.66,122.50 444.72,119.65 444.78,119.68 444.84,121.81 444.91,118.59 444.97,120.64 445.03,121.65 445.09,118.53 445.16,118.92 445.22,115.05 445.28,118.22 445.34,119.44 445.41,120.03 445.47,121.94 445.53,124.34 445.59,120.92 445.66,121.72 445.72,119.95 445.78,118.23 445.84,114.35 445.91,118.28 445.97,114.49 446.03,119.91 446.09,120.30 446.16,116.14 446.22,116.39 446.28,115.07 446.34,120.89 446.41,122.56 446.47,115.03 446.53,115.40 446.59,118.25 446.66,123.84 446.72,113.49 446.78,114.40 446.84,115.28 446.91,116.00 446.97,117.60 447.03,116.83 447.09,117.67 447.16,114.47 447.22,118.32 447.28,120.47 447.34,120.94 447.41,117.05 447.47,120.32 447.53,119.10 447.59,114.06 447.66,120.50 447.72,120.41 447.78,121.92 447.84,115.32 447.91,117.81 447.97,119.88 448.03,114.15 448.09,119.02 448.16,117.23 448.22,119.06 448.28,120.97 448.34,122.02 448.41,121.24 448.47,117.02 448.53,122.35 448.59,120.49 448.66,121.90 448.72,120.04 448.78,120.45 448.84,122.73 448.91,119.88 448.97,122.19 449.03,118.83 449.09,119.59 449.16,120.22 449.22,119.40 449.28,118.61 449.34,117.01 449.41,116.68 449.47,116.53 449.53,117.44 449.60,118.74 449.66,117.17 449.72,118.95 449.78,119.08 449.85,117.34 449.91,116.47 449.97,116.10 450.03,115.85 450.10,117.03 450.16,117.57 450.22,117.52 450.28,117.07 450.35,113.86 450.41,120.73 450.47,115.74 450.53,120.93 450.60,116.26 450.66,118.93 450.72,121.54 450.78,115.43 450.85,122.29 450.91,120.49 450.97,121.46 451.03,119.68 451.10,122.53 451.16,118.59 451.22,113.24 451.28,116.55 451.35,116.22 451.41,113.98 451.47,112.75 451.53,112.18 451.60,112.34 451.66,108.08 451.72,108.10 451.78,106.20 451.85,104.34 451.91,103.83 451.97,104.74 452.03,100.08 452.10,98.48 452.16,100.12 452.22,96.56 452.28,94.80 452.35,87.90 452.41,85.00 452.47,89.46 452.53,95.93 452.60,95.17 452.66,97.49 452.72,103.49 452.78,104.07 452.85,105.92 452.91,108.36 452.97,108.88 453.03,110.18 453.10,109.16 453.16,113.06 453.22,112.20 453.28,113.76 453.35,114.43 453.41,116.74 453.47,115.70 453.53,114.14 453.60,115.25 453.66,111.55 453.72,111.61 453.78,112.47 453.85,110.83 453.91,109.91 453.97,108.59 454.03,107.89 454.10,105.04 454.16,106.67 454.22,98.87 454.28,103.23 454.35,95.28 454.41,91.70 454.47,103.23 454.53,99.47 454.60,100.06 454.66,104.08 454.72,104.31 454.78,103.79 454.85,109.89 454.91,111.31 454.97,113.16 455.03,110.17 455.10,110.05 455.16,114.53 455.22,114.44 455.28,114.11 455.35,112.31 455.41,112.61 455.47,115.95 455.54,117.35 455.60,107.00 455.66,112.70 455.72,111.75 455.79,108.00 455.85,101.52 455.91,103.49 455.97,102.62 456.04,95.65 456.10,89.76 456.16,91.07 456.22,85.04 456.29,85.00 456.35,81.60 456.41,89.55 456.47,79.60 456.54,81.39 456.60,76.82 456.66,82.37 456.72,85.03 456.79,85.43 456.85,84.02 456.91,67.90 456.97,77.21 457.04,86.91 457.10,79.67 457.16,88.87 457.22,86.99 457.29,75.13 457.35,91.80 457.41,91.21 457.47,84.55 457.54,86.36 457.60,91.11 457.66,90.13 457.72,96.81 457.79,100.38 457.85,105.58 457.91,102.43 457.97,107.49 458.04,111.47 458.10,110.43 458.16,111.60 458.22,113.22 458.29,115.56 458.35,111.52 458.41,115.73 458.47,120.56 458.54,116.56 458.60,118.80 458.66,115.85 458.72,116.97 458.79,116.57 458.85,119.41 458.91,118.68 458.97,122.04 459.04,120.55 459.10,121.12 459.16,124.41 459.22,115.64 459.29,120.62 459.35,118.73 459.41,125.50 459.47,123.97 459.54,120.47 459.60,118.72 459.66,123.49 459.72,127.22 459.79,124.50 459.85,123.89 459.91,122.85 459.97,127.99 460.04,126.97 460.10,125.75 460.16,126.31 460.22,125.72 460.29,125.05 460.35,129.02 460.41,120.83 460.47,129.13 460.54,123.34 460.60,125.83 460.66,120.29 460.72,123.76 460.79,126.22 460.85,123.18 460.91,128.92 460.97,122.42 461.04,121.84 461.10,125.54 461.16,124.84 461.22,128.44 461.29,122.88 461.35,121.54 461.41,126.60 461.48,121.57 461.54,125.68 461.60,119.09 461.66,128.13 461.73,123.22 461.79,120.12 461.85,125.42 461.91,124.11 461.98,122.19 462.04,120.74 462.10,121.29 462.16,124.20 462.23,123.44 462.29,123.33 462.35,123.82 462.41,120.51 462.48,122.37 462.54,114.94 462.60,121.72 462.66,126.48 462.73,126.20 462.79,118.80 462.85,129.02 462.91,125.76 462.98,122.62 463.04,124.88 463.10,125.35 463.16,120.57 463.23,127.57 463.29,122.20 463.35,124.45 463.41,129.29 463.48,126.11 463.54,124.72 463.60,120.03 463.66,124.40 463.73,124.77 463.79,123.52 463.85,125.26 463.91,126.85 463.98,124.04 464.04,123.51 464.10,125.95 464.16,126.55 464.23,126.37 464.29,128.87 464.35,120.99 464.41,128.66 464.48,115.22 464.54,124.80 464.60,120.66 464.66,119.10 464.73,124.24 464.79,121.51 464.85,122.41 464.91,124.82 464.98,118.89 465.04,120.52 465.10,120.90 465.16,120.31 465.23,114.21 465.29,123.89 465.35,121.28 465.41,124.93 465.48,116.65 465.54,119.89 465.60,119.42 465.66,123.73 465.73,121.94 465.79,120.95 465.85,124.78 465.91,122.19 465.98,125.53 466.04,122.19 466.10,119.34 466.16,123.23 466.23,124.60 466.29,124.63 466.35,127.91 466.41,126.08 466.48,121.63 466.54,118.00 466.60,120.58 466.66,122.43 466.73,122.48 466.79,121.10 466.85,111.66 466.91,122.63 466.98,122.09 467.04,121.14 467.10,120.63 467.16,121.39 467.23,125.40 467.29,126.18 467.35,121.94 467.42,119.69 467.48,116.81 467.54,120.58 467.60,124.38 467.67,122.37 467.73,125.18 467.79,121.64 467.85,118.25 467.92,120.53 467.98,115.41 468.04,116.18 468.10,120.24 468.17,119.47 468.23,119.02 468.29,119.56 468.35,119.06 468.42,109.82 468.48,120.86 468.54,119.32 468.60,118.23 468.67,120.01 468.73,121.63 468.79,118.08 468.85,118.00 468.92,120.70 468.98,121.20 469.04,124.07 469.10,121.92 469.17,118.15 469.23,123.99 469.29,119.41 469.35,116.71 469.42,120.07 469.48,120.59 469.54,112.75 469.60,117.70 469.67,121.53 469.73,116.42 469.79,114.66 469.85,121.17 469.92,121.62 469.98,114.69 470.04,118.26 470.10,117.28 470.17,120.06 470.23,122.06 470.29,117.45 470.35,119.38 470.42,119.08 470.48,119.41 470.54,118.62 470.60,116.46 470.67,120.68 470.73,119.25 470.79,118.60 470.85,118.21 470.92,117.04 470.98,119.52 471.04,117.42 471.10,115.84 471.17,118.27 471.23,117.84 471.29,117.66 471.35,117.07 471.42,115.63 471.48,115.81 471.54,115.08 471.60,115.27 471.67,113.96 471.73,110.41 471.79,112.95 471.85,113.62 471.92,112.13 471.98,110.03 472.04,109.29 472.10,109.89 472.17,109.66 472.23,105.67 472.29,103.90 472.35,110.06 472.42,107.26 472.48,108.55 472.54,110.37 472.60,110.61 472.67,111.79 472.73,111.28 472.79,111.06 472.85,112.42 472.92,114.14 472.98,114.53 473.04,114.15 473.10,114.39 473.17,115.24 473.23,115.38 473.29,116.33 473.36,116.61 473.42,115.97 473.48,114.30 473.54,118.35 473.61,117.20 473.67,119.39 473.73,117.37 473.79,117.55 473.86,119.19 473.92,116.09 473.98,119.57 474.04,118.63 474.11,119.86 474.17,118.28 474.23,115.20 474.29,110.14 474.36,113.23 474.42,116.82 474.48,114.95 474.54,113.34 474.61,115.14 474.67,114.00 474.73,114.73 474.79,112.29 474.86,113.52 474.92,112.62 474.98,117.67 475.04,114.06 475.11,113.36 475.17,115.37 475.23,112.49 475.29,115.11 475.36,115.94 475.42,114.20 475.48,118.43 475.54,119.19 475.61,116.11 475.67,121.09 475.73,113.30 475.79,111.48 475.86,112.29 475.92,115.78 475.98,117.96 476.04,117.82 476.11,115.24 476.17,114.53 476.23,117.42 476.29,120.29 476.36,116.83 476.42,116.09 476.48,115.85 476.54,120.73 476.61,115.97 476.67,116.23 476.73,113.46 476.79,117.89 476.86,120.69 476.92,116.50 476.98,123.21 477.04,117.44 477.11,118.85 477.17,113.43 477.23,118.56 477.29,120.23 477.36,111.89 477.42,116.08 477.48,116.72 477.54,118.14 477.61,118.67 477.67,120.46 477.73,114.69 477.79,118.00 477.86,113.92 477.92,114.57 477.98,113.27 478.04,116.35 478.11,115.48 478.17,116.52 478.23,115.96 478.29,115.08 478.36,115.09 478.42,114.20 478.48,112.99 478.54,112.16 478.61,112.60 478.67,112.78 478.73,109.99 478.79,109.31 478.86,106.64 478.92,106.02 478.98,109.38 479.04,106.75 479.11,104.17 479.17,100.29 479.23,102.91 479.30,99.14 479.36,99.58 479.42,92.70 479.48,100.50 479.55,102.24 479.61,100.32 479.67,106.65 479.73,107.71 479.80,106.83 479.86,109.44 479.92,108.42 479.98,108.34 480.05,109.14 480.11,111.66 480.17,114.02 480.23,114.49 480.30,114.74 480.36,114.61 480.42,117.44 480.48,118.47 480.55,119.39 480.61,117.33 480.67,121.04 480.73,121.75 480.80,121.30 480.86,119.54 480.92,112.95 480.98,122.35 481.05,108.19 481.11,121.31 481.17,120.26 481.23,118.70 481.30,117.22 481.36,116.02 481.42,114.78 481.48,115.51 481.55,113.45 481.61,113.14 481.67,109.30 481.73,108.41 481.80,105.90 481.86,106.44 481.92,103.83 481.98,106.97 482.05,104.25 482.11,99.15 482.17,98.49 482.23,95.20 482.30,93.12 482.36,91.53 482.42,86.20 482.48,100.55 482.55,100.64 482.61,102.66 482.67,105.10 482.73,105.82 482.80,107.01 482.86,102.39 482.92,105.74 482.98,110.61 483.05,111.43 483.11,112.00 483.17,113.43 483.23,113.03 483.30,115.02 483.36,114.80 483.42,116.11 483.48,117.29 483.55,118.36 483.61,120.06 483.67,121.14 483.73,122.33 483.80,118.04 483.86,117.48 483.92,124.97 483.98,123.03 484.05,123.49 484.11,119.17 484.17,124.27 484.23,124.78 484.30,122.76 484.36,122.57 484.42,119.44 484.48,119.43 484.55,119.85 484.61,120.13 484.67,117.39 484.73,123.08 484.80,121.85 484.86,119.47 484.92,123.19 484.98,119.46 485.05,123.03 485.11,121.98 485.17,122.77 485.24,119.46 485.30,123.00 485.36,121.01 485.42,119.59 485.49,119.96 485.55,121.36 485.61,124.12 485.67,120.15 485.74,123.65 485.80,116.19 485.86,122.28 485.92,119.20 485.99,121.82 486.05,121.49 486.11,124.07 486.17,121.21 486.24,115.72 486.30,121.00 486.36,120.36 486.42,123.29 486.49,117.44 486.55,123.71 486.61,117.17 486.67,115.45 486.74,125.93 486.80,120.05 486.86,120.81 486.92,122.56 486.99,119.88 487.05,112.89 487.11,120.16 487.17,120.53 487.24,113.50 487.30,119.98 487.36,120.95 487.42,123.70 487.49,120.89 487.55,118.62 487.61,118.71 487.67,118.65 487.74,113.34 487.80,118.87 487.86,119.24 487.92,120.90 487.99,114.77 488.05,118.52 488.11,119.81 488.17,118.68 488.24,116.14 488.30,120.46 488.36,119.38 488.42,118.43 488.49,120.63 488.55,118.88 488.61,122.56 488.67,115.70 488.74,121.69 488.80,120.59 488.86,117.09 488.92,116.09 488.99,117.14 489.05,120.32 489.11,119.12 489.17,127.05 489.24,121.65 489.30,118.45 489.36,122.15 489.42,117.71 489.49,118.37 489.55,117.49 489.61,120.40 489.67,119.78 489.74,118.26 489.80,121.90 489.86,125.40 489.92,120.86 489.99,115.93 490.05,122.99 490.11,116.30 490.17,119.37 490.24,119.31 490.30,115.29 490.36,116.32 490.42,114.77 490.49,113.52 490.55,111.30 490.61,113.40 490.67,112.21 490.74,107.18 490.80,103.88 490.86,107.21 490.93,101.97 490.99,100.61 491.05,97.61 491.11,100.43 491.18,97.74 491.24,95.40 491.30,91.33 491.36,90.44 491.43,82.90 491.49,99.35 491.55,91.27 491.61,94.82 491.68,99.45 491.74,103.17 491.80,101.18 491.86,106.52 491.93,104.86 491.99,109.95 492.05,105.65 492.11,107.95 492.18,110.72 492.24,110.51 492.30,110.33 492.36,104.96 492.43,106.32 492.49,105.17 492.55,100.75 492.61,97.75 492.68,98.12 492.74,99.71 492.80,89.50 492.86,101.32 492.93,101.78 492.99,96.71 493.05,102.30 493.11,101.58 493.18,102.83 493.24,104.62 493.30,109.66 493.36,111.57 493.43,112.74 493.49,112.40 493.55,112.56 493.61,112.68 493.68,114.33 493.74,116.73 493.80,116.47 493.86,118.96 493.93,119.95 493.99,120.62 494.05,120.32 494.11,122.56 494.18,123.15 494.24,126.75 494.30,125.68 494.36,124.29 494.43,121.43 494.49,121.18 494.55,121.66 494.61,123.47 494.68,122.12 494.74,122.22 494.80,118.60 494.86,122.52 494.93,124.16 494.99,123.02 495.05,120.80 495.11,120.39 495.18,123.81 495.24,120.16 495.30,115.77 495.36,117.23 495.43,121.67 495.49,122.39 495.55,119.59 495.61,117.59 495.68,123.01 495.74,118.49 495.80,121.76 495.86,125.99 495.93,120.59 495.99,121.47 496.05,120.98 496.11,121.82 496.18,119.35 496.24,117.48 496.30,119.52 496.36,118.05 496.43,121.22 496.49,120.79 496.55,121.85 496.61,119.25 496.68,120.61 496.74,120.21 496.80,119.98 496.87,115.95 496.93,118.08 496.99,117.11 497.05,116.94 497.12,117.67 497.18,110.65 497.24,115.40 497.30,114.79 497.37,114.73 497.43,112.71 497.49,112.12 497.55,112.09 497.62,109.46 497.68,109.12 497.74,108.22 497.80,105.30 497.87,111.27 497.93,111.74 497.99,110.58 498.05,112.27 498.12,112.93 498.18,113.21 498.24,113.12 498.30,114.65 498.37,114.88 498.43,115.39 498.49,116.32 498.55,117.09 498.62,116.45 498.68,116.62 498.74,118.05 498.80,118.69 498.87,118.66 498.93,116.88 498.99,119.72 499.05,120.06 499.12,121.36 499.18,118.60 499.24,118.08 499.30,115.88 499.37,119.99 499.43,121.86 499.49,122.72 499.55,121.00 499.62,118.90 499.68,119.63 499.74,124.71 499.80,119.29 499.87,117.87 499.93,120.68 499.99,120.34 500.05,120.76 500.12,115.40 500.18,113.61 500.24,108.98 500.30,118.80 500.37,118.39 500.43,110.12 500.49,111.85 500.55,106.72 500.62,116.88 500.68,120.42 500.74,114.90 500.80,112.81 500.87,116.36 500.93,118.27 500.99,115.67 501.05,115.62 501.12,117.05 501.18,116.82 501.24,120.99 501.30,109.71 501.37,120.51 501.43,117.89 501.49,118.03 501.55,116.42 501.62,113.74 501.68,118.26 501.74,115.63 501.80,119.32 501.87,116.30 501.93,116.82 501.99,117.35 502.05,118.00 502.12,118.51 502.18,117.17 502.24,119.89 502.30,120.70 502.37,115.28 502.43,118.65 502.49,114.05 502.55,108.28 502.62,116.68 502.68,113.18 502.74,116.10 502.81,114.49 502.87,113.89 502.93,112.03 502.99,111.38 503.06,109.06 503.12,106.79 503.18,105.17 503.24,106.03 503.31,104.37 503.37,105.10 503.43,98.59 503.49,98.51 503.56,97.28 503.62,98.00 503.68,95.74 503.74,89.65 503.81,95.32 503.87,92.76 503.93,83.55 503.99,79.20 504.06,90.73 504.12,86.88 504.18,89.37 504.24,97.94 504.31,96.75 504.37,99.19 504.43,102.43 504.49,98.63 504.56,104.08 504.62,101.25 504.68,106.90 504.74,108.70 504.81,107.41 504.87,110.47 504.93,110.84 504.99,113.10 505.06,116.65 505.12,117.80 505.18,119.01 505.24,120.32 505.31,120.76 505.37,117.36 505.43,120.87 505.49,124.73 505.56,121.16 505.62,115.99 505.68,124.34 505.74,118.07 505.81,120.06 505.87,120.96 505.93,119.91 505.99,120.40 506.06,122.08 506.12,121.88 506.18,120.44 506.24,123.07 506.31,124.69 506.37,118.92 506.43,117.86 506.49,119.33 506.56,120.56 506.62,118.92 506.68,121.59 506.74,120.05 506.81,123.77 506.87,124.56 506.93,122.24 506.99,120.97 507.06,120.25 507.12,119.75 507.18,124.08 507.24,119.78 507.31,118.39 507.37,121.85 507.43,122.68 507.49,123.04 507.56,112.77 507.62,123.91 507.68,118.36 507.74,120.26 507.81,122.16 507.87,119.81 507.93,118.84 507.99,121.74 508.06,123.67 508.12,121.86 508.18,122.71 508.24,119.28 508.31,119.21 508.37,116.77 508.43,120.06 508.49,118.81 508.56,124.29 508.62,123.55 508.68,123.27 508.75,125.29 508.81,119.39 508.87,125.24 508.93,108.08 509.00,123.86 509.06,120.42 509.12,120.52 509.18,117.17 509.25,121.99 509.31,119.87 509.37,121.48 509.43,120.04 509.50,121.40 509.56,124.77 509.62,122.69 509.68,122.89 509.75,120.01 509.81,125.41 509.87,117.15 509.93,124.31 510.00,121.48 510.06,118.81 510.12,121.70 510.18,125.38 510.25,121.14 510.31,126.17 510.37,123.10 510.43,123.23 510.50,124.92 510.56,119.69 510.62,127.00 510.68,119.44 510.75,122.99 510.81,125.10 510.87,120.73 510.93,120.67 511.00,118.44 511.06,121.33 511.12,116.76 511.18,120.96 511.25,121.17 511.31,115.14 511.37,120.10 511.43,112.43 511.50,119.72 511.56,121.35 511.62,122.78 511.68,118.51 511.75,118.29 511.81,120.44 511.87,122.54 511.93,120.64 512.00,118.69 512.06,117.24 512.12,122.24 512.18,120.50 512.25,118.91 512.31,118.56 512.37,119.36 512.43,120.25 512.50,117.25 512.56,118.11 512.62,122.44 512.68,114.01 512.75,116.55 512.81,119.15 512.87,119.73 512.93,122.70 513.00,120.86 513.06,120.88 513.12,119.16 513.18,108.26 513.25,117.31 513.31,118.07 513.37,117.08 513.43,118.23 513.50,116.27 513.56,114.76 513.62,111.91 513.68,116.36 513.75,118.70 513.81,114.14 513.87,118.30 513.93,118.18 514.00,115.29 514.06,112.43 514.12,117.90 514.18,111.73 514.25,115.83 514.31,112.95 514.37,115.83 514.43,116.34 514.50,113.82 514.56,117.08 514.62,116.19 514.69,110.51 514.75,111.28 514.81,114.46 514.87,119.66 514.94,116.32 515.00,116.59 515.06,116.35 515.12,110.22 515.19,117.62 515.25,115.95 515.31,114.24 515.37,114.06 515.44,111.85 515.50,111.45 515.56,111.01 515.62,107.86 515.69,105.90 515.75,105.47 515.81,107.10 515.87,105.78 515.94,101.03 516.00,100.29 516.06,102.05 516.12,101.73 516.19,93.59 516.25,91.20 516.31,93.53 516.37,92.53 516.44,92.71 516.50,82.00 516.56,94.59 516.62,91.97 516.69,95.56 516.75,92.24 516.81,99.65 516.87,94.68 516.94,99.49 517.00,98.30 517.06,101.98 517.12,103.83 517.19,102.11 517.25,104.81 517.31,105.47 517.37,107.22 517.44,108.57 517.50,109.15 517.56,111.09 517.62,112.08 517.69,111.95 517.75,115.58 517.81,120.73 517.87,117.21 517.94,120.23 518.00,119.88 518.06,108.81 518.12,119.36 518.19,118.50 518.25,122.32 518.31,119.16 518.37,124.26 518.44,123.62 518.50,123.18 518.56,120.29 518.62,124.59 518.69,123.48 518.75,122.39 518.81,127.95 518.87,118.92 518.94,121.16 519.00,121.78 519.06,124.86 519.12,120.53 519.19,120.92 519.25,120.00 519.31,117.44 519.37,115.64 519.44,114.98 519.50,112.04 519.56,109.85 519.62,110.95 519.69,110.98 519.75,105.53 519.81,106.46 519.87,101.86 519.94,97.93 520.00,99.36 520.06,93.46 520.12,94.62 520.19,91.60 520.25,95.50 520.31,91.35 520.37,74.60 520.44,82.77 520.50,93.31 520.56,92.43 520.63,88.07 520.69,100.48 520.75,93.78 520.81,95.95 520.88,103.05 520.94,100.87 521.00,103.85 521.06,105.50 521.13,105.68 521.19,107.65 521.25,109.86 521.31,111.92 521.38,116.29 521.44,118.14 521.50,118.51 521.56,120.28 521.63,120.72 521.69,120.77 521.75,120.29 521.81,123.36 521.88,124.57 521.94,122.12 522.00,124.46 522.06,123.07 522.13,118.65 522.19,121.20 522.25,120.16 522.31,126.20 522.38,118.05 522.44,128.68 522.50,123.64 522.56,123.27 522.63,123.55 522.69,123.67 522.75,126.76 522.81,122.93 522.88,120.64 522.94,122.29 523.00,124.21 523.06,120.39 523.13,119.23 523.19,125.02 523.25,121.87 523.31,125.63 523.38,124.35 523.44,121.13 523.50,118.07 523.56,119.96 523.63,123.02 523.69,119.50 523.75,114.71 523.81,120.11 523.88,119.02 523.94,120.97 524.00,114.69 524.06,116.26 524.13,119.98 524.19,122.34 524.25,120.81 524.31,119.19 524.38,121.34 524.44,115.61 524.50,120.14 524.56,120.00 524.63,119.79 524.69,115.11 524.75,118.17 524.81,121.04 524.88,119.88 524.94,122.53 525.00,122.71 525.06,120.53 525.13,121.11 525.19,112.50 525.25,122.24 525.31,124.52 525.38,119.18 525.44,118.73 525.50,121.17 525.56,119.30 525.63,119.00 525.69,119.03 525.75,123.84 525.81,120.27 525.88,121.33 525.94,118.78 526.00,119.91 526.06,119.46 526.13,121.10 526.19,117.67 526.25,116.68 526.31,122.62 526.38,113.23 526.44,119.82 526.50,120.15 526.57,122.89 526.63,118.20 526.69,122.47 526.75,123.09 526.82,121.73 526.88,120.06 526.94,122.34 527.00,124.14 527.07,122.04 527.13,122.08 527.19,120.64 527.25,117.86 527.32,118.15 527.38,126.29 527.44,115.61 527.50,116.67 527.57,123.41 527.63,119.80 527.69,122.91 527.75,115.40 527.82,123.01 527.88,117.94 527.94,120.37 528.00,118.53 528.07,119.89 528.13,123.41 528.19,120.19 528.25,120.05 528.32,120.19 528.38,121.11 528.44,116.62 528.50,119.68 528.57,120.91 528.63,114.48 528.69,118.83 528.75,119.92 528.82,120.56 528.88,114.20 528.94,121.17 529.00,120.96 529.07,120.91 529.13,116.92 529.19,121.82 529.25,117.74 529.32,122.87 529.38,118.11 529.44,115.55 529.50,119.44 529.57,117.99 529.63,114.72 529.69,116.06 529.75,120.05 529.82,117.65 529.88,117.95 529.94,114.48 530.00,112.42 530.07,118.67 530.13,115.40 530.19,115.05 530.25,115.51 530.32,114.69 530.38,114.48 530.44,119.56 530.50,119.45 530.57,120.66 530.63,115.66 530.69,116.68 530.75,117.95 530.82,122.75 530.88,115.45 530.94,121.97 531.00,116.11 531.07,118.62 531.13,113.45 531.19,118.76 531.25,117.04 531.32,119.34 531.38,115.71 531.44,115.80 531.50,111.31 531.57,110.49 531.63,116.67 531.69,115.91 531.75,111.75 531.82,111.67 531.88,112.23 531.94,110.76 532.00,111.22 532.07,107.97 532.13,109.91 532.19,108.91 532.25,108.07 532.32,105.49 532.38,104.54 532.44,105.30 532.51,103.66 532.57,100.83 532.63,95.44 532.69,94.31 532.76,93.95 532.82,94.80 532.88,86.30 532.94,90.30 533.01,95.69 533.07,94.85 533.13,100.45 533.19,97.10 533.26,98.66 533.32,103.69 533.38,100.16 533.44,103.74 533.51,102.56 533.57,105.17 533.63,105.60 533.69,109.32 533.76,107.93 533.82,109.09 533.88,109.84 533.94,111.12 534.01,112.69 534.07,110.93 534.13,110.01 534.19,113.68 534.26,115.76 534.32,115.49 534.38,112.38 534.44,114.80 534.51,109.20 534.57,116.45 534.63,120.79 534.69,110.63 534.76,113.24 534.82,120.11 534.88,120.42 534.94,116.16 535.01,116.56 535.07,119.30 535.13,117.58 535.19,122.38 535.26,120.16 535.32,115.72 535.38,122.34 535.44,121.65 535.51,116.01 535.57,119.85 535.63,119.77 535.69,115.02 535.76,117.30 535.82,123.57 535.88,115.04 535.94,119.27 536.01,118.72 536.07,121.24 536.13,118.31 536.19,120.30 536.26,122.51 536.32,120.60 536.38,121.89 536.44,118.44 536.51,115.12 536.57,117.72 536.63,116.62 536.69,120.91 536.76,120.62 536.82,114.24 536.88,122.76 536.94,114.81 537.01,117.68 537.07,124.79 537.13,118.63 537.19,120.70 537.26,121.90 537.32,121.42 537.38,122.15 537.44,119.18 537.51,122.08 537.57,116.96 537.63,116.75 537.69,118.15 537.76,123.03 537.82,121.56 537.88,117.62 537.94,121.63 538.01,122.74 538.07,116.62 538.13,124.52 538.19,114.13 538.26,121.73 538.32,116.84 538.38,119.96 538.45,121.73 538.51,116.20 538.57,122.23 538.63,115.47 538.70,112.48 538.76,120.48 538.82,120.73 538.88,119.76 538.95,115.90 539.01,119.38 539.07,120.62 539.13,122.14 539.20,118.67 539.26,120.99 539.32,124.77 539.38,120.67 539.45,124.81 539.51,121.97 539.57,122.91 539.63,121.15 539.70,119.73 539.76,118.45 539.82,121.41 539.88,120.09 539.95,121.32 540.01,119.31 540.07,117.59 540.13,116.26 540.20,122.08 540.26,117.58 540.32,120.11 540.38,119.44 540.45,124.63 540.51,116.60 540.57,121.63 540.63,120.50 540.70,119.31 540.76,113.76 540.82,121.81 540.88,121.21 540.95,120.27 541.01,119.49 541.07,119.05 541.13,116.88 541.20,118.09 541.26,117.73 541.32,117.50 541.38,117.09 541.45,115.46 541.51,114.55 541.57,113.91 541.63,115.04 541.70,113.97 541.76,113.97 541.82,110.46 541.88,112.76 541.95,108.80 542.01,109.09 542.07,109.11 542.13,110.81 542.20,104.40 542.26,110.13 542.32,107.17 542.38,110.07 542.45,110.53 542.51,112.54 542.57,112.59 542.63,112.75 542.70,114.67 542.76,114.61 542.82,114.75 542.88,114.11 542.95,115.04 543.01,114.36 543.07,116.37 543.13,117.89 543.20,118.24 543.26,118.05 543.32,119.35 543.38,116.50 543.45,120.12 543.51,116.51 543.57,118.78 543.63,113.93 543.70,116.95 543.76,123.32 543.82,121.64 543.88,118.08 543.95,117.15 544.01,117.30 544.07,121.98 544.13,118.60 544.20,120.86 544.26,115.83 544.32,116.99 544.39,120.98 544.45,114.69 544.51,119.81 544.57,115.15 544.64,118.56 544.70,124.00 544.76,111.38 544.82,117.56 544.89,119.45 544.95,115.21 545.01,121.62 545.07,115.30 545.14,119.67 545.20,115.41 545.26,121.78 545.32,121.59 545.39,116.27 545.45,121.90 545.51,118.82 545.57,120.05 545.64,117.94 545.70,115.61 545.76,119.76 545.82,115.25 545.89,116.95 545.95,117.75 546.01,115.94 546.07,119.63 546.14,115.94 546.20,118.68 546.26,117.42 546.32,115.31 546.39,115.62 546.45,114.40 546.51,112.08 546.57,113.17 546.64,109.15 546.70,108.23 546.76,107.20 546.82,107.91 546.89,107.18 546.95,103.98 547.01,106.14 547.07,100.56 547.14,104.42 547.20,102.10 547.26,99.61 547.32,95.43 547.39,88.20 547.45,91.66 547.51,97.06 547.57,94.34 547.64,96.65 547.70,100.38 547.76,103.24 547.82,105.61 547.89,103.63 547.95,104.35 548.01,105.28 548.07,108.94 548.14,108.35 548.20,110.24 548.26,111.13 548.32,110.49 548.39,112.90 548.45,112.59 548.51,105.80 548.57,111.29 548.64,116.10 548.70,115.51 548.76,118.52 548.82,114.26 548.89,114.06 548.95,113.19 549.01,113.74 549.07,113.53 549.14,114.24 549.20,116.39 549.26,113.01 549.32,112.78 549.39,120.50 549.45,117.46 549.51,120.74 549.57,114.55 549.64,114.29 549.70,113.24 549.76,115.69 549.82,116.17 549.89,113.32 549.95,114.10 550.01,116.35 550.07,117.58 550.14,111.94 550.20,116.74" fill="none" stroke="#2ca02c" stroke-width="0.5" stroke-linejoin="round"/><path d="M356.40,67.00L357.40,67.00L358.20,112.00L355.60,112.00ZM413.40,58.00L414.20,58.00L414.90,112.00L412.70,112.00ZM456.50,69.00L457.30,69.00L458.00,110.00L455.80,110.00Z" fill="#2ca02c" fill-opacity="0.85"/></g>
<g clip-path="url(#cBL)"><polyline points="51.80,196.00 52.00,197.00 54.75,204.40 56.80,201.00 58.40,199.70 59.50,186.80 60.60,200.40 61.90,201.70 63.60,205.10 65.60,204.40 67.60,205.10 69.00,205.80 71.00,197.60 72.40,203.00 75.10,213.30 76.50,211.90 78.50,205.10 80.50,211.20 82.60,205.80 83.90,207.10 86.00,202.40 88.00,201.00 90.70,203.80 93.40,207.10 95.50,203.80 97.50,205.80 100.20,204.20 103.60,205.10 105.70,202.40 107.00,198.30 108.40,201.70 110.40,202.40 112.50,201.00 113.80,199.70 115.20,203.10 117.20,201.40 118.60,202.40 119.90,205.80 122.00,203.80 123.30,203.80 125.40,205.80 127.40,201.00 128.80,203.80 130.10,204.40 131.90,201.00 133.20,209.90 134.60,207.10 136.00,208.50 137.30,205.80 138.90,207.10 141.00,205.80 142.30,205.10 144.40,205.80 146.10,192.90 147.10,200.40 148.40,215.30 149.80,211.20 151.80,210.50 154.50,205.10 156.60,214.60 158.60,212.60 160.70,208.50 162.70,208.50 164.10,204.40 166.10,204.40 167.50,205.80 168.80,205.10 170.20,202.40 172.20,202.40 174.30,208.50 175.60,204.40 177.40,202.40 179.40,192.20 181.00,207.80 182.40,209.20 184.40,207.80 186.50,209.90 187.80,203.80 190.50,203.80 191.90,201.70 193.90,201.70 196.70,199.70 198.40,190.90 200.00,193.60 203.20,206.50 204.80,203.80 207.50,201.70 210.20,200.10 212.30,203.80 214.30,204.40 216.30,207.80 218.40,206.50 221.10,206.50 222.50,204.40 223.80,207.80 225.90,207.80 227.90,208.50 229.90,205.80 232.00,209.90 234.00,207.80 236.00,206.50 237.40,209.90 239.40,207.80 241.50,206.50 242.70,204.30 244.50,209.70 246.10,202.90 247.50,208.30 248.40,207.60 250.60,200.90 252.90,207.60 255.20,215.50 257.00,210.40 259.00,209.70 261.00,209.70 262.80,203.60 264.70,206.30 267.10,203.60 269.20,207.00 271.50,205.60 273.30,200.90 274.20,207.60 276.00,210.40 279.40,215.10 282.10,213.10 284.80,211.00 286.80,211.00 288.60,209.70 289.50,209.50" fill="none" stroke="#ff7f0e" stroke-width="1.1" stroke-linejoin="round"/></g>
<g clip-path="url(#cBR)"><polyline points="312.80,238.50 313.30,237.40 314.90,235.50 316.40,236.20 317.90,235.00 319.50,236.20 321.00,232.40 323.30,225.20 325.10,227.80 327.10,223.20 329.40,218.20 330.90,220.20 332.70,216.40 334.70,214.80 336.20,206.90 338.50,218.70 340.80,218.20 342.40,217.10 343.90,211.80 346.20,208.00 346.90,202.80 348.40,203.60 349.90,202.80 351.00,205.90 353.00,202.80 355.00,196.70 356.50,181.50 358.00,193.00 359.50,213.30 360.70,227.10 362.20,227.80 364.00,224.00 365.30,219.40 366.50,209.50 368.00,208.70 369.40,201.90 370.60,209.50 372.10,208.70 373.70,210.30 375.20,209.50 376.70,206.00 378.20,211.00 379.80,210.30 381.20,206.60 383.50,198.70 385.80,211.20 388.10,208.90 390.80,202.10 392.70,203.60 394.20,208.20 396.50,208.90 398.40,206.30 400.30,202.40 401.90,208.20 404.20,209.70 405.70,206.60 407.20,201.80 408.40,208.20 410.00,199.00 412.10,195.60 414.50,201.20 416.10,210.30 417.90,233.90 420.20,230.90 422.20,228.60 424.00,220.20 426.30,205.80 428.60,212.50 430.90,214.40 433.20,212.50 435.90,206.20 438.50,216.50 440.80,208.80 443.10,201.20 445.40,212.00 447.70,207.40 449.70,202.80 451.80,191.00 453.40,196.40 454.90,191.50 456.40,204.00 457.70,217.00 459.40,231.40 460.60,226.40 462.80,225.50 464.50,218.70 465.30,211.60 467.60,203.20 469.10,207.80 470.60,203.20 472.60,197.60 474.40,205.20 476.70,201.30 478.20,202.50 479.80,193.60 481.30,197.90 482.40,194.50 483.90,202.50 485.90,209.40 487.90,204.80 490.50,191.80 492.40,189.20 494.30,199.40 496.60,201.00 498.90,197.60 501.10,199.10 502.70,191.80 504.60,190.00 506.10,204.80 508.40,206.30 509.90,207.10 511.50,204.80 513.70,196.40 515.30,194.10 516.50,191.50 518.20,202.00 519.50,206.10 521.00,209.20 523.00,224.40 524.50,222.90 526.80,213.70 529.10,207.60 530.60,201.50 532.90,200.80 534.10,212.20 535.60,221.50 537.50,213.70 539.60,211.20 541.60,201.30 543.30,205.60 545.00,204.00 547.30,197.60 548.90,206.80 550.50,207.80" fill="none" stroke="#2ca02c" stroke-width="1.1" stroke-linejoin="round"/></g>
<rect x="51.50" y="30.20" width="237.90" height="103.40" fill="none" stroke="#a8a8a8" stroke-width="1"/>
<path d="M51.70,133.60v-3M51.70,30.20v3 M111.50,133.60v-3M111.50,30.20v3 M170.45,133.60v-3M170.45,30.20v3 M229.40,133.60v-3M229.40,30.20v3 M289.20,133.60v-3M289.20,30.20v3 M51.50,129.50h3M289.40,129.50h-3 M51.50,109.50h3M289.40,109.50h-3 M51.50,89.50h3M289.40,89.50h-3 M51.50,69.50h3M289.40,69.50h-3 M51.50,49.50h3M289.40,49.50h-3" stroke="#777" stroke-width="0.8" fill="none"/>
<rect x="312.80" y="30.20" width="237.70" height="103.40" fill="none" stroke="#a8a8a8" stroke-width="1"/>
<path d="M312.90,133.60v-3M312.90,30.20v3 M372.30,133.60v-3M372.30,30.20v3 M431.35,133.60v-3M431.35,30.20v3 M490.40,133.60v-3M490.40,30.20v3 M550.40,133.60v-3M550.40,30.20v3 M312.80,129.50h3M550.50,129.50h-3 M312.80,109.50h3M550.50,109.50h-3 M312.80,89.50h3M550.50,89.50h-3 M312.80,69.50h3M550.50,69.50h-3 M312.80,49.50h3M550.50,49.50h-3" stroke="#777" stroke-width="0.8" fill="none"/>
<rect x="51.50" y="156.00" width="237.90" height="102.70" fill="none" stroke="#a8a8a8" stroke-width="1"/>
<path d="M51.70,258.70v-3M51.70,156.00v3 M111.50,258.70v-3M111.50,156.00v3 M170.45,258.70v-3M170.45,156.00v3 M229.40,258.70v-3M229.40,156.00v3 M289.20,258.70v-3M289.20,156.00v3 M51.50,251.30h3M289.40,251.30h-3 M51.50,214.20h3M289.40,214.20h-3 M51.50,177.10h3M289.40,177.10h-3" stroke="#777" stroke-width="0.8" fill="none"/>
<rect x="312.80" y="156.00" width="237.70" height="102.70" fill="none" stroke="#a8a8a8" stroke-width="1"/>
<path d="M312.90,258.70v-3M312.90,156.00v3 M372.30,258.70v-3M372.30,156.00v3 M431.35,258.70v-3M431.35,156.00v3 M490.40,258.70v-3M490.40,156.00v3 M550.40,258.70v-3M550.40,156.00v3 M312.80,251.30h3M550.50,251.30h-3 M312.80,214.20h3M550.50,214.20h-3 M312.80,177.10h3M550.50,177.10h-3" stroke="#777" stroke-width="0.8" fill="none"/>
<path d="M77,102.3H127M77,120.5H127" stroke="#000" stroke-width="1.5" fill="none"/>
<text x="63.70" y="84.60" font-family="Liberation Serif" font-size="13.6" text-anchor="start" textLength="72.90" lengthAdjust="spacingAndGlyphs" >small ELMs</text>
<rect x="54.70" y="7.40" width="91.90" height="21.20" rx="2.8" ry="2.8" fill="#fff" stroke="#9a9a9a" stroke-width="0.85"/>
<text x="59.30" y="21.50" font-family="Liberation Serif" font-size="14.67" text-anchor="start" textLength="30.20" lengthAdjust="spacingAndGlyphs" >AUG</text>
<text x="95.80" y="21.50" font-family="Liberation Serif" font-size="14.0" text-anchor="start" textLength="45.80" lengthAdjust="spacingAndGlyphs" >#34462</text>
<rect x="54.60" y="34.60" width="106.10" height="21.80" rx="2.8" ry="2.8" fill="#fff" stroke="#9a9a9a" stroke-width="0.85"/>
<text x="59.10" y="49.60" font-family="Liberation Serif" font-size="13.8" text-anchor="start" textLength="95.90" lengthAdjust="spacingAndGlyphs" >divertor current</text>
<rect x="54.50" y="159.70" width="45.80" height="22.70" rx="2.8" ry="2.8" fill="#fff" stroke="#9a9a9a" stroke-width="0.85"/>
<text x="58.70" y="173.70" font-family="Liberation Serif" font-size="14.67" text-anchor="start" textLength="14.00" lengthAdjust="spacingAndGlyphs" font-style="italic">W</text>
<text x="72.30" y="177.30" font-family="Liberation Serif" font-size="10.3" text-anchor="start" textLength="23.10" lengthAdjust="spacingAndGlyphs" >MHD</text>
<rect x="190.50" y="35.50" width="93.00" height="21.00" rx="2.8" ry="2.8" fill="#fff" stroke="#9a9a9a" stroke-width="0.85"/>
<path d="M197.9,45.4H215.9" stroke="#ff7f0e" stroke-width="1.3"/>
<text x="228.00" y="49.50" font-family="Liberation Serif" font-size="11.5" text-anchor="start" textLength="4.90" lengthAdjust="spacingAndGlyphs" >z</text>
<text x="235.70" y="49.50" font-family="Liberation Serif" font-size="11.5" text-anchor="start" textLength="8.10" lengthAdjust="spacingAndGlyphs" >=</text>
<text x="245.10" y="49.50" font-family="Liberation Serif" font-size="11.5" text-anchor="start" textLength="14.10" lengthAdjust="spacingAndGlyphs" >7.0</text>
<text x="263.60" y="49.50" font-family="Liberation Serif" font-size="11.5" text-anchor="start" textLength="13.90" lengthAdjust="spacingAndGlyphs" >cm</text>
<rect x="451.50" y="35.50" width="93.00" height="21.00" rx="2.8" ry="2.8" fill="#fff" stroke="#9a9a9a" stroke-width="0.85"/>
<path d="M458.9,45.4H476.9" stroke="#2ca02c" stroke-width="1.3"/>
<text x="489.00" y="49.50" font-family="Liberation Serif" font-size="11.5" text-anchor="start" textLength="4.90" lengthAdjust="spacingAndGlyphs" >z</text>
<text x="496.70" y="49.50" font-family="Liberation Serif" font-size="11.5" text-anchor="start" textLength="8.10" lengthAdjust="spacingAndGlyphs" >=</text>
<text x="506.10" y="49.50" font-family="Liberation Serif" font-size="11.5" text-anchor="start" textLength="14.10" lengthAdjust="spacingAndGlyphs" >5.5</text>
<text x="524.60" y="49.50" font-family="Liberation Serif" font-size="11.5" text-anchor="start" textLength="13.90" lengthAdjust="spacingAndGlyphs" >cm</text>
<text x="274.20" y="23.70" font-family="Liberation Serif" font-size="14.67" text-anchor="start" textLength="11.10" lengthAdjust="spacingAndGlyphs" >a)</text>
<text x="535.10" y="24.10" font-family="Liberation Serif" font-size="14.67" text-anchor="start" textLength="11.60" lengthAdjust="spacingAndGlyphs" >b)</text>
<text x="275.30" y="149.30" font-family="Liberation Serif" font-size="14.67" text-anchor="start" textLength="10.70" lengthAdjust="spacingAndGlyphs" >c)</text>
<text x="534.90" y="149.80" font-family="Liberation Serif" font-size="14.67" text-anchor="start" textLength="12.00" lengthAdjust="spacingAndGlyphs" >d)</text>
<text transform="translate(14,82) rotate(-90)" font-family="Liberation Serif" font-size="14.2" text-anchor="middle" textLength="17.7" lengthAdjust="spacingAndGlyphs">kA</text>
<text transform="translate(14,207.5) rotate(-90)" font-family="Liberation Serif" font-size="14.2" text-anchor="middle" textLength="19" lengthAdjust="spacingAndGlyphs">MJ</text>
<text x="146.20" y="287.80" font-family="Liberation Serif" font-size="13.4" text-anchor="start" textLength="47.60" lengthAdjust="spacingAndGlyphs" >time [s]</text>
<text x="407.20" y="287.80" font-family="Liberation Serif" font-size="13.4" text-anchor="start" textLength="48.40" lengthAdjust="spacingAndGlyphs" >time [s]</text>
<text x="50.50" y="133.90" font-family="Liberation Sans" font-size="14.3" text-anchor="end" textLength="21.60" lengthAdjust="spacingAndGlyphs" >0.0</text>
<text x="50.50" y="113.90" font-family="Liberation Sans" font-size="14.3" text-anchor="end" textLength="21.60" lengthAdjust="spacingAndGlyphs" >5.0</text>
<text x="50.50" y="93.90" font-family="Liberation Sans" font-size="14.3" text-anchor="end" textLength="30.00" lengthAdjust="spacingAndGlyphs" >10.0</text>
<text x="50.50" y="73.90" font-family="Liberation Sans" font-size="14.3" text-anchor="end" textLength="30.00" lengthAdjust="spacingAndGlyphs" >15.0</text>
<text x="50.50" y="53.90" font-family="Liberation Sans" font-size="14.3" text-anchor="end" textLength="30.00" lengthAdjust="spacingAndGlyphs" >20.0</text>
<text x="50.50" y="34.00" font-family="Liberation Sans" font-size="14.3" text-anchor="end" textLength="30.00" lengthAdjust="spacingAndGlyphs" >25.0</text>
<text x="50.50" y="255.70" font-family="Liberation Sans" font-size="14.3" text-anchor="end" textLength="30.00" lengthAdjust="spacingAndGlyphs" >0.75</text>
<text x="50.50" y="218.60" font-family="Liberation Sans" font-size="14.3" text-anchor="end" textLength="30.00" lengthAdjust="spacingAndGlyphs" >0.80</text>
<text x="50.50" y="181.50" font-family="Liberation Sans" font-size="14.3" text-anchor="end" textLength="30.00" lengthAdjust="spacingAndGlyphs" >0.85</text>
<text x="52.55" y="271.70" font-family="Liberation Sans" font-size="14.4" text-anchor="middle" textLength="30.40" lengthAdjust="spacingAndGlyphs" >3.40</text>
<text x="111.50" y="271.70" font-family="Liberation Sans" font-size="14.4" text-anchor="middle" textLength="30.40" lengthAdjust="spacingAndGlyphs" >3.45</text>
<text x="170.45" y="271.70" font-family="Liberation Sans" font-size="14.4" text-anchor="middle" textLength="30.40" lengthAdjust="spacingAndGlyphs" >3.50</text>
<text x="229.40" y="271.70" font-family="Liberation Sans" font-size="14.4" text-anchor="middle" textLength="30.40" lengthAdjust="spacingAndGlyphs" >3.55</text>
<text x="313.25" y="271.70" font-family="Liberation Sans" font-size="14.4" text-anchor="middle" textLength="30.40" lengthAdjust="spacingAndGlyphs" >5.40</text>
<text x="372.30" y="271.70" font-family="Liberation Sans" font-size="14.4" text-anchor="middle" textLength="30.40" lengthAdjust="spacingAndGlyphs" >5.45</text>
<text x="431.35" y="271.70" font-family="Liberation Sans" font-size="14.4" text-anchor="middle" textLength="30.40" lengthAdjust="spacingAndGlyphs" >5.50</text>
<text x="490.40" y="271.70" font-family="Liberation Sans" font-size="14.4" text-anchor="middle" textLength="30.40" lengthAdjust="spacingAndGlyphs" >5.55</text>
<text x="549.45" y="271.70" font-family="Liberation Sans" font-size="14.4" text-anchor="middle" textLength="30.40" lengthAdjust="spacingAndGlyphs" >5.60</text>
</svg></body></html>
